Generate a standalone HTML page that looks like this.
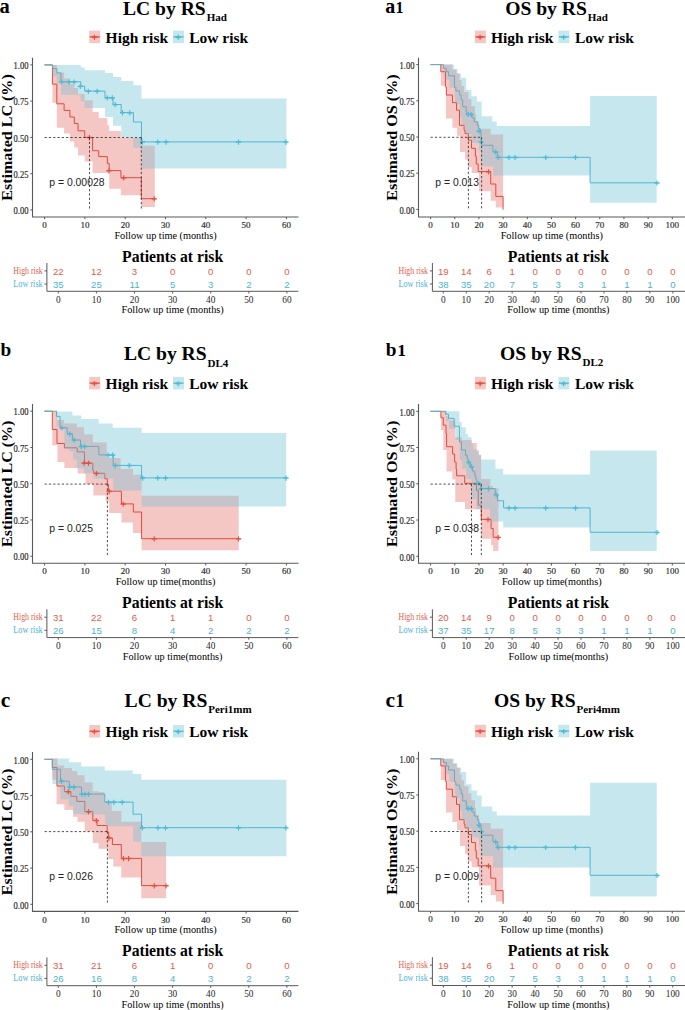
<!DOCTYPE html>
<html><head><meta charset="utf-8"><style>
html,body{margin:0;padding:0;background:#fff;}
svg{display:block;}
</style></head><body>
<svg width="685" height="1010" viewBox="0 0 685 1010">
<rect width="685" height="1010" fill="#fff"/>
<text x="-0.60" y="13.40" font-family='"Liberation Serif", serif' font-weight="bold" font-size="20.5">a</text>
<text x="123.00" y="15.00" font-family='"Liberation Serif", serif' font-weight="bold" font-size="19.6">LC by RS<tspan font-size="11" dx="0.9" dy="6.2">Had</tspan></text>
<rect x="89.20" y="30.60" width="11.0" height="12.50" fill="#DA413A" fill-opacity="0.3"/>
<path d="M89.70,36.85H99.70" stroke="#E4513E" stroke-width="1.4"/>
<path d="M91.90,37.30H96.90" stroke="#E4513E" stroke-width="1.62" fill="none"/><path d="M94.40,34.85V39.85" stroke="#E4513E" stroke-width="1.23" fill="none"/>
<text x="105.60" y="42.60" font-family='"Liberation Serif", serif' font-size="15.5" font-weight="bold" text-anchor="start" fill="#000" >High risk</text>
<rect x="173.00" y="30.60" width="11.0" height="12.50" fill="#44AFC6" fill-opacity="0.3"/>
<path d="M173.50,36.85H183.50" stroke="#4DBBD5" stroke-width="1.4"/>
<path d="M175.70,37.30H180.70" stroke="#4DBBD5" stroke-width="1.62" fill="none"/><path d="M178.20,34.85V39.85" stroke="#4DBBD5" stroke-width="1.23" fill="none"/>
<text x="189.20" y="42.60" font-family='"Liberation Serif", serif' font-size="15.5" font-weight="bold" text-anchor="start" fill="#000" >Low risk</text>
<text x="12.00" y="137.50" font-family='"Liberation Serif", serif' font-size="14.9" font-weight="bold" text-anchor="middle" fill="#000" textLength="126.50" lengthAdjust="spacingAndGlyphs" transform="rotate(-90 12.00 137.50)">Estimated LC (%)</text>
<path d="M44.40,64.90H52.40V84.10H56.80V103.80H64.10V110.40H69.90V117.00H74.30V123.50H78.00V130.80H84.70V137.40H92.60V150.70H98.70V156.60H107.40V163.60H109.20V170.60H120.90V177.70H141.30V198.70H154.80" stroke="#E4513E" stroke-width="1.0" fill="none" stroke-linejoin="miter"/>
<path d="M44.40,64.90H52.60V68.70H56.90V73.00H61.00V81.80H80.80V86.20H84.70V91.10H105.00V97.70H113.00V104.50H121.20V112.60H133.40V122.00H141.50V141.90H286.40" stroke="#4DBBD5" stroke-width="1.0" fill="none" stroke-linejoin="miter"/>
<path d="M52.40,64.90 L56.80,64.90 L56.80,72.50 L64.10,72.50 L64.10,78.40 L69.90,78.40 L69.90,83.90 L74.30,83.90 L74.30,88.00 L78.00,88.00 L78.00,94.10 L84.70,94.10 L84.70,100.20 L92.60,100.20 L92.60,112.00 L98.70,112.00 L98.70,118.10 L107.40,118.10 L107.40,125.30 L109.20,125.30 L109.20,130.90 L120.90,130.90 L120.90,138.00 L141.30,138.00 L141.30,145.80 L154.80,145.80 L154.80,207.10 L141.30,207.10 L141.30,195.20 L120.90,195.20 L120.90,188.70 L109.20,188.70 L109.20,172.90 L92.60,172.90 L92.60,161.50 L84.70,161.50 L84.70,155.40 L78.00,155.40 L78.00,147.50 L74.30,147.50 L74.30,141.40 L69.90,141.40 L69.90,133.50 L64.10,133.50 L64.10,127.70 L56.80,127.70 L56.80,102.80 L52.40,102.80Z" fill="#DA413A" fill-opacity="0.3"/>
<path d="M52.60,64.90 L80.80,64.90 L80.80,67.60 L84.70,67.60 L84.70,70.30 L105.00,70.30 L105.00,73.10 L113.00,73.10 L113.00,76.90 L121.20,76.90 L121.20,81.00 L133.40,81.00 L133.40,85.30 L141.50,85.30 L141.50,98.50 L286.40,98.50 L286.40,168.50 L141.50,168.50 L141.50,147.70 L133.40,147.70 L133.40,137.50 L121.20,137.50 L121.20,125.80 L113.00,125.80 L113.00,117.10 L105.00,117.10 L105.00,108.00 L84.70,108.00 L84.70,101.20 L80.80,101.20 L80.80,94.80 L61.00,94.80 L61.00,83.20 L56.90,83.20 L56.90,76.60 L52.60,76.60Z" fill="#44AFC6" fill-opacity="0.3"/>
<clipPath id="cpa"><path d="M52.40,64.90 L56.80,64.90 L56.80,72.50 L64.10,72.50 L64.10,78.40 L69.90,78.40 L69.90,83.90 L74.30,83.90 L74.30,88.00 L78.00,88.00 L78.00,94.10 L84.70,94.10 L84.70,100.20 L92.60,100.20 L92.60,112.00 L98.70,112.00 L98.70,118.10 L107.40,118.10 L107.40,125.30 L109.20,125.30 L109.20,130.90 L120.90,130.90 L120.90,138.00 L141.30,138.00 L141.30,145.80 L154.80,145.80 L154.80,207.10 L141.30,207.10 L141.30,195.20 L120.90,195.20 L120.90,188.70 L109.20,188.70 L109.20,172.90 L92.60,172.90 L92.60,161.50 L84.70,161.50 L84.70,155.40 L78.00,155.40 L78.00,147.50 L74.30,147.50 L74.30,141.40 L69.90,141.40 L69.90,133.50 L64.10,133.50 L64.10,127.70 L56.80,127.70 L56.80,102.80 L52.40,102.80Z"/></clipPath>
<path d="M52.60,64.90 L80.80,64.90 L80.80,67.60 L84.70,67.60 L84.70,70.30 L105.00,70.30 L105.00,73.10 L113.00,73.10 L113.00,76.90 L121.20,76.90 L121.20,81.00 L133.40,81.00 L133.40,85.30 L141.50,85.30 L141.50,98.50 L286.40,98.50 L286.40,168.50 L141.50,168.50 L141.50,147.70 L133.40,147.70 L133.40,137.50 L121.20,137.50 L121.20,125.80 L113.00,125.80 L113.00,117.10 L105.00,117.10 L105.00,108.00 L84.70,108.00 L84.70,101.20 L80.80,101.20 L80.80,94.80 L61.00,94.80 L61.00,83.20 L56.90,83.20 L56.90,76.60 L52.60,76.60Z" fill="#fff" fill-opacity="0.09" clip-path="url(#cpa)"/>
<path d="M86.80,137.55H92.00" stroke="#E4513E" stroke-width="1.50" fill="none"/><path d="M89.40,135.00V140.20" stroke="#E4513E" stroke-width="1.14" fill="none"/>
<path d="M106.40,170.75H111.60" stroke="#E4513E" stroke-width="1.50" fill="none"/><path d="M109.00,168.20V173.40" stroke="#E4513E" stroke-width="1.14" fill="none"/>
<path d="M121.10,177.85H126.30" stroke="#E4513E" stroke-width="1.50" fill="none"/><path d="M123.70,175.30V180.50" stroke="#E4513E" stroke-width="1.14" fill="none"/>
<path d="M151.60,198.85H156.80" stroke="#E4513E" stroke-width="1.50" fill="none"/><path d="M154.20,196.30V201.50" stroke="#E4513E" stroke-width="1.14" fill="none"/>
<path d="M59.10,81.95H64.30" stroke="#4DBBD5" stroke-width="1.50" fill="none"/><path d="M61.70,79.40V84.60" stroke="#4DBBD5" stroke-width="1.14" fill="none"/>
<path d="M66.70,81.95H71.90" stroke="#4DBBD5" stroke-width="1.50" fill="none"/><path d="M69.30,79.40V84.60" stroke="#4DBBD5" stroke-width="1.14" fill="none"/>
<path d="M71.50,81.95H76.70" stroke="#4DBBD5" stroke-width="1.50" fill="none"/><path d="M74.10,79.40V84.60" stroke="#4DBBD5" stroke-width="1.14" fill="none"/>
<path d="M77.70,86.35H82.90" stroke="#4DBBD5" stroke-width="1.50" fill="none"/><path d="M80.30,83.80V89.00" stroke="#4DBBD5" stroke-width="1.14" fill="none"/>
<path d="M85.70,91.25H90.90" stroke="#4DBBD5" stroke-width="1.50" fill="none"/><path d="M88.30,88.70V93.90" stroke="#4DBBD5" stroke-width="1.14" fill="none"/>
<path d="M94.50,91.25H99.70" stroke="#4DBBD5" stroke-width="1.50" fill="none"/><path d="M97.10,88.70V93.90" stroke="#4DBBD5" stroke-width="1.14" fill="none"/>
<path d="M104.60,97.85H109.80" stroke="#4DBBD5" stroke-width="1.50" fill="none"/><path d="M107.20,95.30V100.50" stroke="#4DBBD5" stroke-width="1.14" fill="none"/>
<path d="M109.70,97.85H114.90" stroke="#4DBBD5" stroke-width="1.50" fill="none"/><path d="M112.30,95.30V100.50" stroke="#4DBBD5" stroke-width="1.14" fill="none"/>
<path d="M112.60,104.65H117.80" stroke="#4DBBD5" stroke-width="1.50" fill="none"/><path d="M115.20,102.10V107.30" stroke="#4DBBD5" stroke-width="1.14" fill="none"/>
<path d="M119.90,112.75H125.10" stroke="#4DBBD5" stroke-width="1.50" fill="none"/><path d="M122.50,110.20V115.40" stroke="#4DBBD5" stroke-width="1.14" fill="none"/>
<path d="M127.20,112.75H132.40" stroke="#4DBBD5" stroke-width="1.50" fill="none"/><path d="M129.80,110.20V115.40" stroke="#4DBBD5" stroke-width="1.14" fill="none"/>
<path d="M139.80,142.05H145.00" stroke="#4DBBD5" stroke-width="1.50" fill="none"/><path d="M142.40,139.50V144.70" stroke="#4DBBD5" stroke-width="1.14" fill="none"/>
<path d="M155.20,142.05H160.40" stroke="#4DBBD5" stroke-width="1.50" fill="none"/><path d="M157.80,139.50V144.70" stroke="#4DBBD5" stroke-width="1.14" fill="none"/>
<path d="M163.40,142.05H168.60" stroke="#4DBBD5" stroke-width="1.50" fill="none"/><path d="M166.00,139.50V144.70" stroke="#4DBBD5" stroke-width="1.14" fill="none"/>
<path d="M235.90,142.05H241.10" stroke="#4DBBD5" stroke-width="1.50" fill="none"/><path d="M238.50,139.50V144.70" stroke="#4DBBD5" stroke-width="1.14" fill="none"/>
<path d="M283.30,142.05H288.50" stroke="#4DBBD5" stroke-width="1.50" fill="none"/><path d="M285.90,139.50V144.70" stroke="#4DBBD5" stroke-width="1.14" fill="none"/>
<path d="M44.60,137.50H141.30" stroke="#2e2e2e" stroke-width="0.85" stroke-dasharray="2.2,2.1" fill="none"/>
<path d="M89.50,137.50V209.90" stroke="#2e2e2e" stroke-width="0.85" stroke-dasharray="2.2,2.1" fill="none"/>
<path d="M141.30,137.50V209.90" stroke="#2e2e2e" stroke-width="0.85" stroke-dasharray="2.2,2.1" fill="none"/>
<path d="M32.50,57.65V217.00H298.50" stroke="#585858" stroke-width="1.1" fill="none"/>
<path d="M30.30,209.90H32.50" stroke="#585858" stroke-width="1"/>
<text x="28.50" y="214.10" font-family='"Liberation Serif", serif' font-size="9.3" font-weight="normal" text-anchor="end" fill="#2E2E2E" textLength="15.00" lengthAdjust="spacingAndGlyphs" stroke="#2E2E2E" stroke-width="0.18">0.00</text>
<path d="M30.30,173.65H32.50" stroke="#585858" stroke-width="1"/>
<text x="28.50" y="177.85" font-family='"Liberation Serif", serif' font-size="9.3" font-weight="normal" text-anchor="end" fill="#2E2E2E" textLength="15.00" lengthAdjust="spacingAndGlyphs" stroke="#2E2E2E" stroke-width="0.18">0.25</text>
<path d="M30.30,137.40H32.50" stroke="#585858" stroke-width="1"/>
<text x="28.50" y="141.60" font-family='"Liberation Serif", serif' font-size="9.3" font-weight="normal" text-anchor="end" fill="#2E2E2E" textLength="15.00" lengthAdjust="spacingAndGlyphs" stroke="#2E2E2E" stroke-width="0.18">0.50</text>
<path d="M30.30,101.15H32.50" stroke="#585858" stroke-width="1"/>
<text x="28.50" y="105.35" font-family='"Liberation Serif", serif' font-size="9.3" font-weight="normal" text-anchor="end" fill="#2E2E2E" textLength="15.00" lengthAdjust="spacingAndGlyphs" stroke="#2E2E2E" stroke-width="0.18">0.75</text>
<path d="M30.30,64.90H32.50" stroke="#585858" stroke-width="1"/>
<text x="28.50" y="69.10" font-family='"Liberation Serif", serif' font-size="9.3" font-weight="normal" text-anchor="end" fill="#2E2E2E" textLength="15.00" lengthAdjust="spacingAndGlyphs" stroke="#2E2E2E" stroke-width="0.18">1.00</text>
<path d="M44.60,217.00V219.20" stroke="#585858" stroke-width="1"/>
<text x="44.60" y="228.10" font-family='"Liberation Serif", serif' font-size="9.0" font-weight="normal" text-anchor="middle" fill="#2E2E2E" stroke="#2E2E2E" stroke-width="0.18">0</text>
<path d="M84.90,217.00V219.20" stroke="#585858" stroke-width="1"/>
<text x="84.90" y="228.10" font-family='"Liberation Serif", serif' font-size="9.0" font-weight="normal" text-anchor="middle" fill="#2E2E2E" stroke="#2E2E2E" stroke-width="0.18">10</text>
<path d="M125.20,217.00V219.20" stroke="#585858" stroke-width="1"/>
<text x="125.20" y="228.10" font-family='"Liberation Serif", serif' font-size="9.0" font-weight="normal" text-anchor="middle" fill="#2E2E2E" stroke="#2E2E2E" stroke-width="0.18">20</text>
<path d="M165.50,217.00V219.20" stroke="#585858" stroke-width="1"/>
<text x="165.50" y="228.10" font-family='"Liberation Serif", serif' font-size="9.0" font-weight="normal" text-anchor="middle" fill="#2E2E2E" stroke="#2E2E2E" stroke-width="0.18">30</text>
<path d="M205.80,217.00V219.20" stroke="#585858" stroke-width="1"/>
<text x="205.80" y="228.10" font-family='"Liberation Serif", serif' font-size="9.0" font-weight="normal" text-anchor="middle" fill="#2E2E2E" stroke="#2E2E2E" stroke-width="0.18">40</text>
<path d="M246.10,217.00V219.20" stroke="#585858" stroke-width="1"/>
<text x="246.10" y="228.10" font-family='"Liberation Serif", serif' font-size="9.0" font-weight="normal" text-anchor="middle" fill="#2E2E2E" stroke="#2E2E2E" stroke-width="0.18">50</text>
<path d="M286.40,217.00V219.20" stroke="#585858" stroke-width="1"/>
<text x="286.40" y="228.10" font-family='"Liberation Serif", serif' font-size="9.0" font-weight="normal" text-anchor="middle" fill="#2E2E2E" stroke="#2E2E2E" stroke-width="0.18">60</text>
<text x="165.50" y="238.60" font-family='"Liberation Serif", serif' font-size="10.25" font-weight="normal" text-anchor="middle" fill="#000" >Follow up time (months)</text>
<text x="49.30" y="185.70" font-family='"Liberation Sans", sans-serif' font-size="10.4" font-weight="normal" text-anchor="start" fill="#222" >p = 0.00028</text>
<text x="172.60" y="261.50" font-family='"Liberation Serif", serif' font-size="15.7" font-weight="bold" text-anchor="middle" fill="#000" >Patients at risk</text>
<path d="M46.90,263.00V291.30H298.30" stroke="#585858" stroke-width="1.0" fill="none"/>
<path d="M44.40,270.90H46.90" stroke="#585858" stroke-width="1"/>
<path d="M44.40,284.00H46.90" stroke="#585858" stroke-width="1"/>
<text x="42.70" y="273.90" font-family='"Liberation Serif", serif' font-size="10" font-weight="normal" text-anchor="end" fill="#E25B4A" textLength="29.40" lengthAdjust="spacingAndGlyphs" >High risk</text>
<text x="42.70" y="286.90" font-family='"Liberation Serif", serif' font-size="10" font-weight="normal" text-anchor="end" fill="#4CB3CF" textLength="29.40" lengthAdjust="spacingAndGlyphs" >Low risk</text>
<text x="58.30" y="274.70" font-family='"Liberation Sans", sans-serif' font-size="9.6" font-weight="normal" text-anchor="middle" fill="#E25B4A" >22</text>
<text x="58.30" y="287.80" font-family='"Liberation Sans", sans-serif' font-size="9.6" font-weight="normal" text-anchor="middle" fill="#4CB3CF" >35</text>
<path d="M58.30,291.30V293.40" stroke="#585858" stroke-width="1"/>
<text x="58.30" y="302.80" font-family='"Liberation Serif", serif' font-size="9.3" font-weight="normal" text-anchor="middle" fill="#262626" >0</text>
<text x="96.40" y="274.70" font-family='"Liberation Sans", sans-serif' font-size="9.6" font-weight="normal" text-anchor="middle" fill="#E25B4A" >12</text>
<text x="96.40" y="287.80" font-family='"Liberation Sans", sans-serif' font-size="9.6" font-weight="normal" text-anchor="middle" fill="#4CB3CF" >25</text>
<path d="M96.40,291.30V293.40" stroke="#585858" stroke-width="1"/>
<text x="96.40" y="302.80" font-family='"Liberation Serif", serif' font-size="9.3" font-weight="normal" text-anchor="middle" fill="#262626" >10</text>
<text x="134.50" y="274.70" font-family='"Liberation Sans", sans-serif' font-size="9.6" font-weight="normal" text-anchor="middle" fill="#E25B4A" >3</text>
<text x="134.50" y="287.80" font-family='"Liberation Sans", sans-serif' font-size="9.6" font-weight="normal" text-anchor="middle" fill="#4CB3CF" >11</text>
<path d="M134.50,291.30V293.40" stroke="#585858" stroke-width="1"/>
<text x="134.50" y="302.80" font-family='"Liberation Serif", serif' font-size="9.3" font-weight="normal" text-anchor="middle" fill="#262626" >20</text>
<text x="172.60" y="274.70" font-family='"Liberation Sans", sans-serif' font-size="9.6" font-weight="normal" text-anchor="middle" fill="#E25B4A" >0</text>
<text x="172.60" y="287.80" font-family='"Liberation Sans", sans-serif' font-size="9.6" font-weight="normal" text-anchor="middle" fill="#4CB3CF" >5</text>
<path d="M172.60,291.30V293.40" stroke="#585858" stroke-width="1"/>
<text x="172.60" y="302.80" font-family='"Liberation Serif", serif' font-size="9.3" font-weight="normal" text-anchor="middle" fill="#262626" >30</text>
<text x="210.70" y="274.70" font-family='"Liberation Sans", sans-serif' font-size="9.6" font-weight="normal" text-anchor="middle" fill="#E25B4A" >0</text>
<text x="210.70" y="287.80" font-family='"Liberation Sans", sans-serif' font-size="9.6" font-weight="normal" text-anchor="middle" fill="#4CB3CF" >3</text>
<path d="M210.70,291.30V293.40" stroke="#585858" stroke-width="1"/>
<text x="210.70" y="302.80" font-family='"Liberation Serif", serif' font-size="9.3" font-weight="normal" text-anchor="middle" fill="#262626" >40</text>
<text x="248.80" y="274.70" font-family='"Liberation Sans", sans-serif' font-size="9.6" font-weight="normal" text-anchor="middle" fill="#E25B4A" >0</text>
<text x="248.80" y="287.80" font-family='"Liberation Sans", sans-serif' font-size="9.6" font-weight="normal" text-anchor="middle" fill="#4CB3CF" >2</text>
<path d="M248.80,291.30V293.40" stroke="#585858" stroke-width="1"/>
<text x="248.80" y="302.80" font-family='"Liberation Serif", serif' font-size="9.3" font-weight="normal" text-anchor="middle" fill="#262626" >50</text>
<text x="286.90" y="274.70" font-family='"Liberation Sans", sans-serif' font-size="9.6" font-weight="normal" text-anchor="middle" fill="#E25B4A" >0</text>
<text x="286.90" y="287.80" font-family='"Liberation Sans", sans-serif' font-size="9.6" font-weight="normal" text-anchor="middle" fill="#4CB3CF" >2</text>
<path d="M286.90,291.30V293.40" stroke="#585858" stroke-width="1"/>
<text x="286.90" y="302.80" font-family='"Liberation Serif", serif' font-size="9.3" font-weight="normal" text-anchor="middle" fill="#262626" >60</text>
<text x="172.60" y="313.30" font-family='"Liberation Serif", serif' font-size="10.25" font-weight="normal" text-anchor="middle" fill="#000" >Follow up time (months)</text>
<text x="385.30" y="13.30" font-family='"Liberation Serif", serif' font-weight="bold" font-size="20">a<tspan font-size="16" dx="0.2">1</tspan></text>
<text x="505.20" y="15.00" font-family='"Liberation Serif", serif' font-weight="bold" font-size="19.6">OS by RS<tspan font-size="11" dx="0.9" dy="6.2">Had</tspan></text>
<rect x="474.90" y="30.60" width="11.0" height="12.50" fill="#DA413A" fill-opacity="0.3"/>
<path d="M475.40,36.85H485.40" stroke="#E4513E" stroke-width="1.4"/>
<path d="M477.60,37.30H482.60" stroke="#E4513E" stroke-width="1.62" fill="none"/><path d="M480.10,34.85V39.85" stroke="#E4513E" stroke-width="1.23" fill="none"/>
<text x="491.00" y="42.60" font-family='"Liberation Serif", serif' font-size="15.5" font-weight="bold" text-anchor="start" fill="#000" >High risk</text>
<rect x="558.40" y="30.60" width="11.0" height="12.50" fill="#44AFC6" fill-opacity="0.3"/>
<path d="M558.90,36.85H568.90" stroke="#4DBBD5" stroke-width="1.4"/>
<path d="M561.10,37.30H566.10" stroke="#4DBBD5" stroke-width="1.62" fill="none"/><path d="M563.60,34.85V39.85" stroke="#4DBBD5" stroke-width="1.23" fill="none"/>
<text x="574.90" y="42.60" font-family='"Liberation Serif", serif' font-size="15.5" font-weight="bold" text-anchor="start" fill="#000" >Low risk</text>
<text x="397.30" y="137.50" font-family='"Liberation Serif", serif' font-size="14.9" font-weight="bold" text-anchor="middle" fill="#000" textLength="126.30" lengthAdjust="spacingAndGlyphs" transform="rotate(-90 397.30 137.50)">Estimated OS (%)</text>
<path d="M430.40,64.60H440.80V71.70H445.40V86.90H446.30V95.00H452.40V102.60H456.50V110.20H459.50V125.40H464.10V130.10H465.00V133.60H468.30V140.20H471.50V148.30H475.40V156.30H476.30V164.00H478.20V171.60H490.70V184.00H495.80V196.40H503.10V209.60H503.10" stroke="#E4513E" stroke-width="1.0" fill="none" stroke-linejoin="miter"/>
<path d="M430.40,64.60H443.40V68.20H446.30V71.70H448.60V75.80H454.50V87.40H455.90V90.90H459.70V95.00H461.20V99.70H462.70V106.70H466.20V111.40H466.80V114.30H472.00V117.80H474.30V121.90H477.30V125.40H478.70V128.90H480.20V133.00H481.20V141.70H481.60V145.30H492.90V151.90H497.30V157.30H590.10V182.80H657.30" stroke="#4DBBD5" stroke-width="1.0" fill="none" stroke-linejoin="miter"/>
<path d="M440.80,64.60 L452.40,64.60 L452.40,69.50 L456.50,69.50 L456.50,73.50 L459.50,73.50 L459.50,80.00 L461.50,80.00 L461.50,86.00 L464.10,86.00 L464.10,92.00 L468.40,92.00 L468.40,99.00 L471.40,99.00 L471.40,106.00 L475.00,106.00 L475.00,113.80 L476.10,113.80 L476.10,121.00 L479.10,121.00 L479.10,128.70 L490.70,128.70 L490.70,134.60 L503.10,134.60 L503.10,207.40 L495.80,207.40 L495.80,200.80 L490.70,200.80 L490.70,191.30 L479.00,191.30 L479.00,173.10 L471.70,173.10 L471.70,167.30 L467.80,167.30 L467.80,159.50 L465.10,159.50 L465.10,151.90 L460.00,151.90 L460.00,135.80 L457.10,135.80 L457.10,127.70 L452.40,127.70 L452.40,118.40 L446.00,118.40 L446.00,85.70 L440.80,85.70Z" fill="#DA413A" fill-opacity="0.3"/>
<path d="M443.40,64.60 L453.90,64.60 L453.90,69.00 L457.40,69.00 L457.40,73.40 L461.00,73.40 L461.00,77.80 L466.20,77.80 L466.20,90.00 L471.50,90.00 L471.50,96.20 L476.90,96.20 L476.90,101.40 L481.70,101.40 L481.70,116.30 L492.30,116.30 L492.30,121.50 L496.80,121.50 L496.80,125.90 L590.10,125.90 L590.10,96.10 L656.70,96.10 L656.70,202.70 L590.10,202.70 L590.10,175.50 L493.00,175.50 L493.00,166.20 L480.90,166.20 L480.90,150.70 L479.00,150.70 L479.00,143.00 L471.40,143.00 L471.40,134.00 L465.70,134.00 L465.70,125.70 L461.90,125.70 L461.90,116.80 L459.80,116.80 L459.80,103.70 L455.10,103.70 L455.10,96.50 L454.80,96.50 L454.80,87.50 L449.50,87.50 L449.50,80.00 L446.30,80.00 L446.30,71.70 L443.40,71.70Z" fill="#44AFC6" fill-opacity="0.3"/>
<clipPath id="cpa1"><path d="M440.80,64.60 L452.40,64.60 L452.40,69.50 L456.50,69.50 L456.50,73.50 L459.50,73.50 L459.50,80.00 L461.50,80.00 L461.50,86.00 L464.10,86.00 L464.10,92.00 L468.40,92.00 L468.40,99.00 L471.40,99.00 L471.40,106.00 L475.00,106.00 L475.00,113.80 L476.10,113.80 L476.10,121.00 L479.10,121.00 L479.10,128.70 L490.70,128.70 L490.70,134.60 L503.10,134.60 L503.10,207.40 L495.80,207.40 L495.80,200.80 L490.70,200.80 L490.70,191.30 L479.00,191.30 L479.00,173.10 L471.70,173.10 L471.70,167.30 L467.80,167.30 L467.80,159.50 L465.10,159.50 L465.10,151.90 L460.00,151.90 L460.00,135.80 L457.10,135.80 L457.10,127.70 L452.40,127.70 L452.40,118.40 L446.00,118.40 L446.00,85.70 L440.80,85.70Z"/></clipPath>
<path d="M443.40,64.60 L453.90,64.60 L453.90,69.00 L457.40,69.00 L457.40,73.40 L461.00,73.40 L461.00,77.80 L466.20,77.80 L466.20,90.00 L471.50,90.00 L471.50,96.20 L476.90,96.20 L476.90,101.40 L481.70,101.40 L481.70,116.30 L492.30,116.30 L492.30,121.50 L496.80,121.50 L496.80,125.90 L590.10,125.90 L590.10,96.10 L656.70,96.10 L656.70,202.70 L590.10,202.70 L590.10,175.50 L493.00,175.50 L493.00,166.20 L480.90,166.20 L480.90,150.70 L479.00,150.70 L479.00,143.00 L471.40,143.00 L471.40,134.00 L465.70,134.00 L465.70,125.70 L461.90,125.70 L461.90,116.80 L459.80,116.80 L459.80,103.70 L455.10,103.70 L455.10,96.50 L454.80,96.50 L454.80,87.50 L449.50,87.50 L449.50,80.00 L446.30,80.00 L446.30,71.70 L443.40,71.70Z" fill="#fff" fill-opacity="0.09" clip-path="url(#cpa1)"/>
<path d="M485.90,171.75H491.10" stroke="#E4513E" stroke-width="1.50" fill="none"/><path d="M488.50,169.20V174.40" stroke="#E4513E" stroke-width="1.14" fill="none"/>
<path d="M465.60,114.45H470.80" stroke="#4DBBD5" stroke-width="1.50" fill="none"/><path d="M468.20,111.90V117.10" stroke="#4DBBD5" stroke-width="1.14" fill="none"/>
<path d="M468.60,114.45H473.80" stroke="#4DBBD5" stroke-width="1.50" fill="none"/><path d="M471.20,111.90V117.10" stroke="#4DBBD5" stroke-width="1.14" fill="none"/>
<path d="M476.40,131.15H481.60" stroke="#4DBBD5" stroke-width="1.50" fill="none"/><path d="M479.00,128.60V133.80" stroke="#4DBBD5" stroke-width="1.14" fill="none"/>
<path d="M478.60,141.85H483.80" stroke="#4DBBD5" stroke-width="1.50" fill="none"/><path d="M481.20,139.30V144.50" stroke="#4DBBD5" stroke-width="1.14" fill="none"/>
<path d="M493.10,152.15H498.30" stroke="#4DBBD5" stroke-width="1.50" fill="none"/><path d="M495.70,149.60V154.80" stroke="#4DBBD5" stroke-width="1.14" fill="none"/>
<path d="M495.50,157.45H500.70" stroke="#4DBBD5" stroke-width="1.50" fill="none"/><path d="M498.10,154.90V160.10" stroke="#4DBBD5" stroke-width="1.14" fill="none"/>
<path d="M506.30,157.45H511.50" stroke="#4DBBD5" stroke-width="1.50" fill="none"/><path d="M508.90,154.90V160.10" stroke="#4DBBD5" stroke-width="1.14" fill="none"/>
<path d="M512.50,157.45H517.70" stroke="#4DBBD5" stroke-width="1.50" fill="none"/><path d="M515.10,154.90V160.10" stroke="#4DBBD5" stroke-width="1.14" fill="none"/>
<path d="M543.10,157.45H548.30" stroke="#4DBBD5" stroke-width="1.50" fill="none"/><path d="M545.70,154.90V160.10" stroke="#4DBBD5" stroke-width="1.14" fill="none"/>
<path d="M572.90,157.45H578.10" stroke="#4DBBD5" stroke-width="1.50" fill="none"/><path d="M575.50,154.90V160.10" stroke="#4DBBD5" stroke-width="1.14" fill="none"/>
<path d="M654.40,182.95H659.60" stroke="#4DBBD5" stroke-width="1.50" fill="none"/><path d="M657.00,180.40V185.60" stroke="#4DBBD5" stroke-width="1.14" fill="none"/>
<path d="M430.60,137.30H481.60" stroke="#2e2e2e" stroke-width="0.85" stroke-dasharray="2.2,2.1" fill="none"/>
<path d="M468.40,137.30V209.40" stroke="#2e2e2e" stroke-width="0.85" stroke-dasharray="2.2,2.1" fill="none"/>
<path d="M481.60,137.30V209.40" stroke="#2e2e2e" stroke-width="0.85" stroke-dasharray="2.2,2.1" fill="none"/>
<path d="M418.50,57.65V217.00H685.00" stroke="#585858" stroke-width="1.1" fill="none"/>
<path d="M416.30,209.40H418.50" stroke="#585858" stroke-width="1"/>
<text x="414.50" y="213.60" font-family='"Liberation Serif", serif' font-size="9.3" font-weight="normal" text-anchor="end" fill="#2E2E2E" textLength="15.00" lengthAdjust="spacingAndGlyphs" stroke="#2E2E2E" stroke-width="0.18">0.00</text>
<path d="M416.30,173.20H418.50" stroke="#585858" stroke-width="1"/>
<text x="414.50" y="177.40" font-family='"Liberation Serif", serif' font-size="9.3" font-weight="normal" text-anchor="end" fill="#2E2E2E" textLength="15.00" lengthAdjust="spacingAndGlyphs" stroke="#2E2E2E" stroke-width="0.18">0.25</text>
<path d="M416.30,137.00H418.50" stroke="#585858" stroke-width="1"/>
<text x="414.50" y="141.20" font-family='"Liberation Serif", serif' font-size="9.3" font-weight="normal" text-anchor="end" fill="#2E2E2E" textLength="15.00" lengthAdjust="spacingAndGlyphs" stroke="#2E2E2E" stroke-width="0.18">0.50</text>
<path d="M416.30,100.80H418.50" stroke="#585858" stroke-width="1"/>
<text x="414.50" y="105.00" font-family='"Liberation Serif", serif' font-size="9.3" font-weight="normal" text-anchor="end" fill="#2E2E2E" textLength="15.00" lengthAdjust="spacingAndGlyphs" stroke="#2E2E2E" stroke-width="0.18">0.75</text>
<path d="M416.30,64.60H418.50" stroke="#585858" stroke-width="1"/>
<text x="414.50" y="68.80" font-family='"Liberation Serif", serif' font-size="9.3" font-weight="normal" text-anchor="end" fill="#2E2E2E" textLength="15.00" lengthAdjust="spacingAndGlyphs" stroke="#2E2E2E" stroke-width="0.18">1.00</text>
<path d="M430.60,217.00V219.20" stroke="#585858" stroke-width="1"/>
<text x="430.60" y="228.10" font-family='"Liberation Serif", serif' font-size="9.0" font-weight="normal" text-anchor="middle" fill="#2E2E2E" stroke="#2E2E2E" stroke-width="0.18">0</text>
<path d="M454.77,217.00V219.20" stroke="#585858" stroke-width="1"/>
<text x="454.77" y="228.10" font-family='"Liberation Serif", serif' font-size="9.0" font-weight="normal" text-anchor="middle" fill="#2E2E2E" stroke="#2E2E2E" stroke-width="0.18">10</text>
<path d="M478.94,217.00V219.20" stroke="#585858" stroke-width="1"/>
<text x="478.94" y="228.10" font-family='"Liberation Serif", serif' font-size="9.0" font-weight="normal" text-anchor="middle" fill="#2E2E2E" stroke="#2E2E2E" stroke-width="0.18">20</text>
<path d="M503.11,217.00V219.20" stroke="#585858" stroke-width="1"/>
<text x="503.11" y="228.10" font-family='"Liberation Serif", serif' font-size="9.0" font-weight="normal" text-anchor="middle" fill="#2E2E2E" stroke="#2E2E2E" stroke-width="0.18">30</text>
<path d="M527.28,217.00V219.20" stroke="#585858" stroke-width="1"/>
<text x="527.28" y="228.10" font-family='"Liberation Serif", serif' font-size="9.0" font-weight="normal" text-anchor="middle" fill="#2E2E2E" stroke="#2E2E2E" stroke-width="0.18">40</text>
<path d="M551.45,217.00V219.20" stroke="#585858" stroke-width="1"/>
<text x="551.45" y="228.10" font-family='"Liberation Serif", serif' font-size="9.0" font-weight="normal" text-anchor="middle" fill="#2E2E2E" stroke="#2E2E2E" stroke-width="0.18">50</text>
<path d="M575.62,217.00V219.20" stroke="#585858" stroke-width="1"/>
<text x="575.62" y="228.10" font-family='"Liberation Serif", serif' font-size="9.0" font-weight="normal" text-anchor="middle" fill="#2E2E2E" stroke="#2E2E2E" stroke-width="0.18">60</text>
<path d="M599.79,217.00V219.20" stroke="#585858" stroke-width="1"/>
<text x="599.79" y="228.10" font-family='"Liberation Serif", serif' font-size="9.0" font-weight="normal" text-anchor="middle" fill="#2E2E2E" stroke="#2E2E2E" stroke-width="0.18">70</text>
<path d="M623.96,217.00V219.20" stroke="#585858" stroke-width="1"/>
<text x="623.96" y="228.10" font-family='"Liberation Serif", serif' font-size="9.0" font-weight="normal" text-anchor="middle" fill="#2E2E2E" stroke="#2E2E2E" stroke-width="0.18">80</text>
<path d="M648.13,217.00V219.20" stroke="#585858" stroke-width="1"/>
<text x="648.13" y="228.10" font-family='"Liberation Serif", serif' font-size="9.0" font-weight="normal" text-anchor="middle" fill="#2E2E2E" stroke="#2E2E2E" stroke-width="0.18">90</text>
<path d="M672.30,217.00V219.20" stroke="#585858" stroke-width="1"/>
<text x="672.30" y="228.10" font-family='"Liberation Serif", serif' font-size="9.0" font-weight="normal" text-anchor="middle" fill="#2E2E2E" stroke="#2E2E2E" stroke-width="0.18">100</text>
<text x="551.75" y="238.60" font-family='"Liberation Serif", serif' font-size="10.25" font-weight="normal" text-anchor="middle" fill="#000" >Follow up time (months)</text>
<text x="435.30" y="185.70" font-family='"Liberation Sans", sans-serif' font-size="10.4" font-weight="normal" text-anchor="start" fill="#222" >p = 0.013</text>
<text x="558.40" y="261.50" font-family='"Liberation Serif", serif' font-size="15.7" font-weight="bold" text-anchor="middle" fill="#000" >Patients at risk</text>
<path d="M432.40,263.00V291.30H685.00" stroke="#585858" stroke-width="1.0" fill="none"/>
<path d="M429.90,270.90H432.40" stroke="#585858" stroke-width="1"/>
<path d="M429.90,284.00H432.40" stroke="#585858" stroke-width="1"/>
<text x="427.90" y="273.90" font-family='"Liberation Serif", serif' font-size="10" font-weight="normal" text-anchor="end" fill="#E25B4A" textLength="29.40" lengthAdjust="spacingAndGlyphs" >High risk</text>
<text x="427.90" y="286.90" font-family='"Liberation Serif", serif' font-size="10" font-weight="normal" text-anchor="end" fill="#4CB3CF" textLength="29.40" lengthAdjust="spacingAndGlyphs" >Low risk</text>
<text x="443.30" y="274.70" font-family='"Liberation Sans", sans-serif' font-size="9.6" font-weight="normal" text-anchor="middle" fill="#E25B4A" >19</text>
<text x="443.30" y="287.80" font-family='"Liberation Sans", sans-serif' font-size="9.6" font-weight="normal" text-anchor="middle" fill="#4CB3CF" >38</text>
<path d="M443.30,291.30V293.40" stroke="#585858" stroke-width="1"/>
<text x="443.30" y="302.80" font-family='"Liberation Serif", serif' font-size="9.3" font-weight="normal" text-anchor="middle" fill="#262626" >0</text>
<text x="466.25" y="274.70" font-family='"Liberation Sans", sans-serif' font-size="9.6" font-weight="normal" text-anchor="middle" fill="#E25B4A" >14</text>
<text x="466.25" y="287.80" font-family='"Liberation Sans", sans-serif' font-size="9.6" font-weight="normal" text-anchor="middle" fill="#4CB3CF" >35</text>
<path d="M466.25,291.30V293.40" stroke="#585858" stroke-width="1"/>
<text x="466.25" y="302.80" font-family='"Liberation Serif", serif' font-size="9.3" font-weight="normal" text-anchor="middle" fill="#262626" >10</text>
<text x="489.20" y="274.70" font-family='"Liberation Sans", sans-serif' font-size="9.6" font-weight="normal" text-anchor="middle" fill="#E25B4A" >6</text>
<text x="489.20" y="287.80" font-family='"Liberation Sans", sans-serif' font-size="9.6" font-weight="normal" text-anchor="middle" fill="#4CB3CF" >20</text>
<path d="M489.20,291.30V293.40" stroke="#585858" stroke-width="1"/>
<text x="489.20" y="302.80" font-family='"Liberation Serif", serif' font-size="9.3" font-weight="normal" text-anchor="middle" fill="#262626" >20</text>
<text x="512.15" y="274.70" font-family='"Liberation Sans", sans-serif' font-size="9.6" font-weight="normal" text-anchor="middle" fill="#E25B4A" >1</text>
<text x="512.15" y="287.80" font-family='"Liberation Sans", sans-serif' font-size="9.6" font-weight="normal" text-anchor="middle" fill="#4CB3CF" >7</text>
<path d="M512.15,291.30V293.40" stroke="#585858" stroke-width="1"/>
<text x="512.15" y="302.80" font-family='"Liberation Serif", serif' font-size="9.3" font-weight="normal" text-anchor="middle" fill="#262626" >30</text>
<text x="535.10" y="274.70" font-family='"Liberation Sans", sans-serif' font-size="9.6" font-weight="normal" text-anchor="middle" fill="#E25B4A" >0</text>
<text x="535.10" y="287.80" font-family='"Liberation Sans", sans-serif' font-size="9.6" font-weight="normal" text-anchor="middle" fill="#4CB3CF" >5</text>
<path d="M535.10,291.30V293.40" stroke="#585858" stroke-width="1"/>
<text x="535.10" y="302.80" font-family='"Liberation Serif", serif' font-size="9.3" font-weight="normal" text-anchor="middle" fill="#262626" >40</text>
<text x="558.05" y="274.70" font-family='"Liberation Sans", sans-serif' font-size="9.6" font-weight="normal" text-anchor="middle" fill="#E25B4A" >0</text>
<text x="558.05" y="287.80" font-family='"Liberation Sans", sans-serif' font-size="9.6" font-weight="normal" text-anchor="middle" fill="#4CB3CF" >3</text>
<path d="M558.05,291.30V293.40" stroke="#585858" stroke-width="1"/>
<text x="558.05" y="302.80" font-family='"Liberation Serif", serif' font-size="9.3" font-weight="normal" text-anchor="middle" fill="#262626" >50</text>
<text x="581.00" y="274.70" font-family='"Liberation Sans", sans-serif' font-size="9.6" font-weight="normal" text-anchor="middle" fill="#E25B4A" >0</text>
<text x="581.00" y="287.80" font-family='"Liberation Sans", sans-serif' font-size="9.6" font-weight="normal" text-anchor="middle" fill="#4CB3CF" >3</text>
<path d="M581.00,291.30V293.40" stroke="#585858" stroke-width="1"/>
<text x="581.00" y="302.80" font-family='"Liberation Serif", serif' font-size="9.3" font-weight="normal" text-anchor="middle" fill="#262626" >60</text>
<text x="603.95" y="274.70" font-family='"Liberation Sans", sans-serif' font-size="9.6" font-weight="normal" text-anchor="middle" fill="#E25B4A" >0</text>
<text x="603.95" y="287.80" font-family='"Liberation Sans", sans-serif' font-size="9.6" font-weight="normal" text-anchor="middle" fill="#4CB3CF" >1</text>
<path d="M603.95,291.30V293.40" stroke="#585858" stroke-width="1"/>
<text x="603.95" y="302.80" font-family='"Liberation Serif", serif' font-size="9.3" font-weight="normal" text-anchor="middle" fill="#262626" >70</text>
<text x="626.90" y="274.70" font-family='"Liberation Sans", sans-serif' font-size="9.6" font-weight="normal" text-anchor="middle" fill="#E25B4A" >0</text>
<text x="626.90" y="287.80" font-family='"Liberation Sans", sans-serif' font-size="9.6" font-weight="normal" text-anchor="middle" fill="#4CB3CF" >1</text>
<path d="M626.90,291.30V293.40" stroke="#585858" stroke-width="1"/>
<text x="626.90" y="302.80" font-family='"Liberation Serif", serif' font-size="9.3" font-weight="normal" text-anchor="middle" fill="#262626" >80</text>
<text x="649.85" y="274.70" font-family='"Liberation Sans", sans-serif' font-size="9.6" font-weight="normal" text-anchor="middle" fill="#E25B4A" >0</text>
<text x="649.85" y="287.80" font-family='"Liberation Sans", sans-serif' font-size="9.6" font-weight="normal" text-anchor="middle" fill="#4CB3CF" >1</text>
<path d="M649.85,291.30V293.40" stroke="#585858" stroke-width="1"/>
<text x="649.85" y="302.80" font-family='"Liberation Serif", serif' font-size="9.3" font-weight="normal" text-anchor="middle" fill="#262626" >90</text>
<text x="672.80" y="274.70" font-family='"Liberation Sans", sans-serif' font-size="9.6" font-weight="normal" text-anchor="middle" fill="#E25B4A" >0</text>
<text x="672.80" y="287.80" font-family='"Liberation Sans", sans-serif' font-size="9.6" font-weight="normal" text-anchor="middle" fill="#4CB3CF" >0</text>
<path d="M672.80,291.30V293.40" stroke="#585858" stroke-width="1"/>
<text x="672.80" y="302.80" font-family='"Liberation Serif", serif' font-size="9.3" font-weight="normal" text-anchor="middle" fill="#262626" >100</text>
<text x="558.40" y="313.30" font-family='"Liberation Serif", serif' font-size="10.25" font-weight="normal" text-anchor="middle" fill="#000" >Follow up time (months)</text>
<text x="0.40" y="356.00" font-family='"Liberation Serif", serif' font-weight="bold" font-size="19.3">b</text>
<text x="123.90" y="360.40" font-family='"Liberation Serif", serif' font-weight="bold" font-size="19.6">LC by RS<tspan font-size="11" dx="0.9" dy="6.2">DL4</tspan></text>
<rect x="89.20" y="376.90" width="11.0" height="12.50" fill="#DA413A" fill-opacity="0.3"/>
<path d="M89.70,383.15H99.70" stroke="#E4513E" stroke-width="1.4"/>
<path d="M91.90,383.60H96.90" stroke="#E4513E" stroke-width="1.62" fill="none"/><path d="M94.40,381.15V386.15" stroke="#E4513E" stroke-width="1.23" fill="none"/>
<text x="105.60" y="388.90" font-family='"Liberation Serif", serif' font-size="15.5" font-weight="bold" text-anchor="start" fill="#000" >High risk</text>
<rect x="173.00" y="376.90" width="11.0" height="12.50" fill="#44AFC6" fill-opacity="0.3"/>
<path d="M173.50,383.15H183.50" stroke="#4DBBD5" stroke-width="1.4"/>
<path d="M175.70,383.60H180.70" stroke="#4DBBD5" stroke-width="1.62" fill="none"/><path d="M178.20,381.15V386.15" stroke="#4DBBD5" stroke-width="1.23" fill="none"/>
<text x="189.20" y="388.90" font-family='"Liberation Serif", serif' font-size="15.5" font-weight="bold" text-anchor="start" fill="#000" >Low risk</text>
<text x="12.00" y="483.80" font-family='"Liberation Serif", serif' font-size="14.9" font-weight="bold" text-anchor="middle" fill="#000" textLength="126.50" lengthAdjust="spacingAndGlyphs" transform="rotate(-90 12.00 483.80)">Estimated LC (%)</text>
<path d="M44.40,411.20H52.30V429.50H57.00V443.50H64.40V447.80H77.20V451.80H84.50V463.00H92.80V470.40H93.60V473.30H104.80V478.80H107.40V484.20H108.40V491.20H121.40V503.90H133.30V512.00H141.60V538.70H238.70" stroke="#E4513E" stroke-width="1.0" fill="none" stroke-linejoin="miter"/>
<path d="M44.40,411.20H56.60V416.40H60.10V427.80H67.20V433.90H72.40V440.00H80.50V446.40H98.80V454.90H113.20V465.40H141.60V477.90H286.20" stroke="#4DBBD5" stroke-width="1.0" fill="none" stroke-linejoin="miter"/>
<path d="M52.30,411.50 L57.00,411.50 L57.00,419.90 L64.10,419.90 L64.10,423.60 L76.80,423.60 L76.80,427.30 L84.10,427.30 L84.10,434.60 L92.80,434.60 L92.80,442.60 L106.70,442.60 L106.70,458.00 L120.60,458.00 L120.60,468.90 L133.00,468.90 L133.00,474.70 L141.60,474.70 L141.60,495.80 L238.70,495.80 L238.70,550.30 L141.60,550.30 L141.60,533.10 L132.90,533.10 L132.90,522.60 L121.50,522.60 L121.50,512.90 L109.20,512.90 L109.20,501.50 L105.70,501.50 L105.70,495.40 L93.40,495.40 L93.40,484.00 L85.50,484.00 L85.50,473.50 L77.70,473.50 L77.70,468.10 L64.40,468.10 L64.40,462.00 L57.50,462.00 L57.50,445.30 L52.30,445.30Z" fill="#DA413A" fill-opacity="0.3"/>
<path d="M56.60,411.50 L72.40,411.50 L72.40,415.50 L81.20,415.50 L81.20,419.00 L98.70,419.00 L98.70,423.40 L112.70,423.40 L112.70,427.80 L141.60,427.80 L141.60,433.00 L286.20,433.00 L286.20,506.50 L141.60,506.50 L141.60,490.50 L113.30,490.50 L113.30,478.40 L93.60,478.40 L93.60,473.30 L84.00,473.30 L84.00,468.20 L76.80,468.20 L76.80,459.40 L73.10,459.40 L73.10,451.40 L69.50,451.40 L69.50,448.50 L64.40,448.50 L64.40,426.50 L56.60,426.50Z" fill="#44AFC6" fill-opacity="0.3"/>
<clipPath id="cpb"><path d="M52.30,411.50 L57.00,411.50 L57.00,419.90 L64.10,419.90 L64.10,423.60 L76.80,423.60 L76.80,427.30 L84.10,427.30 L84.10,434.60 L92.80,434.60 L92.80,442.60 L106.70,442.60 L106.70,458.00 L120.60,458.00 L120.60,468.90 L133.00,468.90 L133.00,474.70 L141.60,474.70 L141.60,495.80 L238.70,495.80 L238.70,550.30 L141.60,550.30 L141.60,533.10 L132.90,533.10 L132.90,522.60 L121.50,522.60 L121.50,512.90 L109.20,512.90 L109.20,501.50 L105.70,501.50 L105.70,495.40 L93.40,495.40 L93.40,484.00 L85.50,484.00 L85.50,473.50 L77.70,473.50 L77.70,468.10 L64.40,468.10 L64.40,462.00 L57.50,462.00 L57.50,445.30 L52.30,445.30Z"/></clipPath>
<path d="M56.60,411.50 L72.40,411.50 L72.40,415.50 L81.20,415.50 L81.20,419.00 L98.70,419.00 L98.70,423.40 L112.70,423.40 L112.70,427.80 L141.60,427.80 L141.60,433.00 L286.20,433.00 L286.20,506.50 L141.60,506.50 L141.60,490.50 L113.30,490.50 L113.30,478.40 L93.60,478.40 L93.60,473.30 L84.00,473.30 L84.00,468.20 L76.80,468.20 L76.80,459.40 L73.10,459.40 L73.10,451.40 L69.50,451.40 L69.50,448.50 L64.40,448.50 L64.40,426.50 L56.60,426.50Z" fill="#fff" fill-opacity="0.09" clip-path="url(#cpb)"/>
<path d="M81.50,463.15H86.70" stroke="#E4513E" stroke-width="1.50" fill="none"/><path d="M84.10,460.60V465.80" stroke="#E4513E" stroke-width="1.14" fill="none"/>
<path d="M85.90,463.15H91.10" stroke="#E4513E" stroke-width="1.50" fill="none"/><path d="M88.50,460.60V465.80" stroke="#E4513E" stroke-width="1.14" fill="none"/>
<path d="M93.80,473.45H99.00" stroke="#E4513E" stroke-width="1.50" fill="none"/><path d="M96.40,470.90V476.10" stroke="#E4513E" stroke-width="1.14" fill="none"/>
<path d="M106.60,491.35H111.80" stroke="#E4513E" stroke-width="1.50" fill="none"/><path d="M109.20,488.80V494.00" stroke="#E4513E" stroke-width="1.14" fill="none"/>
<path d="M120.60,504.05H125.80" stroke="#E4513E" stroke-width="1.50" fill="none"/><path d="M123.20,501.50V506.70" stroke="#E4513E" stroke-width="1.14" fill="none"/>
<path d="M151.60,538.85H156.80" stroke="#E4513E" stroke-width="1.50" fill="none"/><path d="M154.20,536.30V541.50" stroke="#E4513E" stroke-width="1.14" fill="none"/>
<path d="M235.90,538.85H241.10" stroke="#E4513E" stroke-width="1.50" fill="none"/><path d="M238.50,536.30V541.50" stroke="#E4513E" stroke-width="1.14" fill="none"/>
<path d="M59.30,427.95H64.50" stroke="#4DBBD5" stroke-width="1.50" fill="none"/><path d="M61.90,425.40V430.60" stroke="#4DBBD5" stroke-width="1.14" fill="none"/>
<path d="M67.20,434.05H72.40" stroke="#4DBBD5" stroke-width="1.50" fill="none"/><path d="M69.80,431.50V436.70" stroke="#4DBBD5" stroke-width="1.14" fill="none"/>
<path d="M71.60,440.15H76.80" stroke="#4DBBD5" stroke-width="1.50" fill="none"/><path d="M74.20,437.60V442.80" stroke="#4DBBD5" stroke-width="1.14" fill="none"/>
<path d="M78.60,446.55H83.80" stroke="#4DBBD5" stroke-width="1.50" fill="none"/><path d="M81.20,444.00V449.20" stroke="#4DBBD5" stroke-width="1.14" fill="none"/>
<path d="M82.10,446.55H87.30" stroke="#4DBBD5" stroke-width="1.50" fill="none"/><path d="M84.70,444.00V449.20" stroke="#4DBBD5" stroke-width="1.14" fill="none"/>
<path d="M105.50,455.05H110.70" stroke="#4DBBD5" stroke-width="1.50" fill="none"/><path d="M108.10,452.50V457.70" stroke="#4DBBD5" stroke-width="1.14" fill="none"/>
<path d="M110.10,455.05H115.30" stroke="#4DBBD5" stroke-width="1.50" fill="none"/><path d="M112.70,452.50V457.70" stroke="#4DBBD5" stroke-width="1.14" fill="none"/>
<path d="M112.70,465.55H117.90" stroke="#4DBBD5" stroke-width="1.50" fill="none"/><path d="M115.30,463.00V468.20" stroke="#4DBBD5" stroke-width="1.14" fill="none"/>
<path d="M126.70,465.55H131.90" stroke="#4DBBD5" stroke-width="1.50" fill="none"/><path d="M129.30,463.00V468.20" stroke="#4DBBD5" stroke-width="1.14" fill="none"/>
<path d="M140.00,478.05H145.20" stroke="#4DBBD5" stroke-width="1.50" fill="none"/><path d="M142.60,475.50V480.70" stroke="#4DBBD5" stroke-width="1.14" fill="none"/>
<path d="M155.20,478.05H160.40" stroke="#4DBBD5" stroke-width="1.50" fill="none"/><path d="M157.80,475.50V480.70" stroke="#4DBBD5" stroke-width="1.14" fill="none"/>
<path d="M163.00,478.05H168.20" stroke="#4DBBD5" stroke-width="1.50" fill="none"/><path d="M165.60,475.50V480.70" stroke="#4DBBD5" stroke-width="1.14" fill="none"/>
<path d="M283.40,478.05H288.60" stroke="#4DBBD5" stroke-width="1.50" fill="none"/><path d="M286.00,475.50V480.70" stroke="#4DBBD5" stroke-width="1.14" fill="none"/>
<path d="M44.60,484.10H107.40" stroke="#2e2e2e" stroke-width="0.85" stroke-dasharray="2.2,2.1" fill="none"/>
<path d="M107.40,484.10V556.20" stroke="#2e2e2e" stroke-width="0.85" stroke-dasharray="2.2,2.1" fill="none"/>
<path d="M32.50,403.95V563.30H298.50" stroke="#585858" stroke-width="1.1" fill="none"/>
<path d="M30.30,556.20H32.50" stroke="#585858" stroke-width="1"/>
<text x="28.50" y="560.40" font-family='"Liberation Serif", serif' font-size="9.3" font-weight="normal" text-anchor="end" fill="#2E2E2E" textLength="15.00" lengthAdjust="spacingAndGlyphs" stroke="#2E2E2E" stroke-width="0.18">0.00</text>
<path d="M30.30,519.95H32.50" stroke="#585858" stroke-width="1"/>
<text x="28.50" y="524.15" font-family='"Liberation Serif", serif' font-size="9.3" font-weight="normal" text-anchor="end" fill="#2E2E2E" textLength="15.00" lengthAdjust="spacingAndGlyphs" stroke="#2E2E2E" stroke-width="0.18">0.25</text>
<path d="M30.30,483.70H32.50" stroke="#585858" stroke-width="1"/>
<text x="28.50" y="487.90" font-family='"Liberation Serif", serif' font-size="9.3" font-weight="normal" text-anchor="end" fill="#2E2E2E" textLength="15.00" lengthAdjust="spacingAndGlyphs" stroke="#2E2E2E" stroke-width="0.18">0.50</text>
<path d="M30.30,447.45H32.50" stroke="#585858" stroke-width="1"/>
<text x="28.50" y="451.65" font-family='"Liberation Serif", serif' font-size="9.3" font-weight="normal" text-anchor="end" fill="#2E2E2E" textLength="15.00" lengthAdjust="spacingAndGlyphs" stroke="#2E2E2E" stroke-width="0.18">0.75</text>
<path d="M30.30,411.20H32.50" stroke="#585858" stroke-width="1"/>
<text x="28.50" y="415.40" font-family='"Liberation Serif", serif' font-size="9.3" font-weight="normal" text-anchor="end" fill="#2E2E2E" textLength="15.00" lengthAdjust="spacingAndGlyphs" stroke="#2E2E2E" stroke-width="0.18">1.00</text>
<path d="M44.60,563.30V565.50" stroke="#585858" stroke-width="1"/>
<text x="44.60" y="574.40" font-family='"Liberation Serif", serif' font-size="9.0" font-weight="normal" text-anchor="middle" fill="#2E2E2E" stroke="#2E2E2E" stroke-width="0.18">0</text>
<path d="M84.90,563.30V565.50" stroke="#585858" stroke-width="1"/>
<text x="84.90" y="574.40" font-family='"Liberation Serif", serif' font-size="9.0" font-weight="normal" text-anchor="middle" fill="#2E2E2E" stroke="#2E2E2E" stroke-width="0.18">10</text>
<path d="M125.20,563.30V565.50" stroke="#585858" stroke-width="1"/>
<text x="125.20" y="574.40" font-family='"Liberation Serif", serif' font-size="9.0" font-weight="normal" text-anchor="middle" fill="#2E2E2E" stroke="#2E2E2E" stroke-width="0.18">20</text>
<path d="M165.50,563.30V565.50" stroke="#585858" stroke-width="1"/>
<text x="165.50" y="574.40" font-family='"Liberation Serif", serif' font-size="9.0" font-weight="normal" text-anchor="middle" fill="#2E2E2E" stroke="#2E2E2E" stroke-width="0.18">30</text>
<path d="M205.80,563.30V565.50" stroke="#585858" stroke-width="1"/>
<text x="205.80" y="574.40" font-family='"Liberation Serif", serif' font-size="9.0" font-weight="normal" text-anchor="middle" fill="#2E2E2E" stroke="#2E2E2E" stroke-width="0.18">40</text>
<path d="M246.10,563.30V565.50" stroke="#585858" stroke-width="1"/>
<text x="246.10" y="574.40" font-family='"Liberation Serif", serif' font-size="9.0" font-weight="normal" text-anchor="middle" fill="#2E2E2E" stroke="#2E2E2E" stroke-width="0.18">50</text>
<path d="M286.40,563.30V565.50" stroke="#585858" stroke-width="1"/>
<text x="286.40" y="574.40" font-family='"Liberation Serif", serif' font-size="9.0" font-weight="normal" text-anchor="middle" fill="#2E2E2E" stroke="#2E2E2E" stroke-width="0.18">60</text>
<text x="165.50" y="584.90" font-family='"Liberation Serif", serif' font-size="10.25" font-weight="normal" text-anchor="middle" fill="#000" >Follow up time(months)</text>
<text x="49.30" y="531.60" font-family='"Liberation Sans", sans-serif' font-size="10.4" font-weight="normal" text-anchor="start" fill="#222" >p = 0.025</text>
<text x="172.60" y="607.80" font-family='"Liberation Serif", serif' font-size="15.7" font-weight="bold" text-anchor="middle" fill="#000" >Patients at risk</text>
<path d="M46.90,609.30V637.60H298.30" stroke="#585858" stroke-width="1.0" fill="none"/>
<path d="M44.40,617.20H46.90" stroke="#585858" stroke-width="1"/>
<path d="M44.40,630.30H46.90" stroke="#585858" stroke-width="1"/>
<text x="42.70" y="620.20" font-family='"Liberation Serif", serif' font-size="10" font-weight="normal" text-anchor="end" fill="#E25B4A" textLength="29.40" lengthAdjust="spacingAndGlyphs" >High risk</text>
<text x="42.70" y="633.20" font-family='"Liberation Serif", serif' font-size="10" font-weight="normal" text-anchor="end" fill="#4CB3CF" textLength="29.40" lengthAdjust="spacingAndGlyphs" >Low risk</text>
<text x="58.30" y="621.00" font-family='"Liberation Sans", sans-serif' font-size="9.6" font-weight="normal" text-anchor="middle" fill="#E25B4A" >31</text>
<text x="58.30" y="634.10" font-family='"Liberation Sans", sans-serif' font-size="9.6" font-weight="normal" text-anchor="middle" fill="#4CB3CF" >26</text>
<path d="M58.30,637.60V639.70" stroke="#585858" stroke-width="1"/>
<text x="58.30" y="649.10" font-family='"Liberation Serif", serif' font-size="9.3" font-weight="normal" text-anchor="middle" fill="#262626" >0</text>
<text x="96.40" y="621.00" font-family='"Liberation Sans", sans-serif' font-size="9.6" font-weight="normal" text-anchor="middle" fill="#E25B4A" >22</text>
<text x="96.40" y="634.10" font-family='"Liberation Sans", sans-serif' font-size="9.6" font-weight="normal" text-anchor="middle" fill="#4CB3CF" >15</text>
<path d="M96.40,637.60V639.70" stroke="#585858" stroke-width="1"/>
<text x="96.40" y="649.10" font-family='"Liberation Serif", serif' font-size="9.3" font-weight="normal" text-anchor="middle" fill="#262626" >10</text>
<text x="134.50" y="621.00" font-family='"Liberation Sans", sans-serif' font-size="9.6" font-weight="normal" text-anchor="middle" fill="#E25B4A" >6</text>
<text x="134.50" y="634.10" font-family='"Liberation Sans", sans-serif' font-size="9.6" font-weight="normal" text-anchor="middle" fill="#4CB3CF" >8</text>
<path d="M134.50,637.60V639.70" stroke="#585858" stroke-width="1"/>
<text x="134.50" y="649.10" font-family='"Liberation Serif", serif' font-size="9.3" font-weight="normal" text-anchor="middle" fill="#262626" >20</text>
<text x="172.60" y="621.00" font-family='"Liberation Sans", sans-serif' font-size="9.6" font-weight="normal" text-anchor="middle" fill="#E25B4A" >1</text>
<text x="172.60" y="634.10" font-family='"Liberation Sans", sans-serif' font-size="9.6" font-weight="normal" text-anchor="middle" fill="#4CB3CF" >4</text>
<path d="M172.60,637.60V639.70" stroke="#585858" stroke-width="1"/>
<text x="172.60" y="649.10" font-family='"Liberation Serif", serif' font-size="9.3" font-weight="normal" text-anchor="middle" fill="#262626" >30</text>
<text x="210.70" y="621.00" font-family='"Liberation Sans", sans-serif' font-size="9.6" font-weight="normal" text-anchor="middle" fill="#E25B4A" >1</text>
<text x="210.70" y="634.10" font-family='"Liberation Sans", sans-serif' font-size="9.6" font-weight="normal" text-anchor="middle" fill="#4CB3CF" >2</text>
<path d="M210.70,637.60V639.70" stroke="#585858" stroke-width="1"/>
<text x="210.70" y="649.10" font-family='"Liberation Serif", serif' font-size="9.3" font-weight="normal" text-anchor="middle" fill="#262626" >40</text>
<text x="248.80" y="621.00" font-family='"Liberation Sans", sans-serif' font-size="9.6" font-weight="normal" text-anchor="middle" fill="#E25B4A" >0</text>
<text x="248.80" y="634.10" font-family='"Liberation Sans", sans-serif' font-size="9.6" font-weight="normal" text-anchor="middle" fill="#4CB3CF" >2</text>
<path d="M248.80,637.60V639.70" stroke="#585858" stroke-width="1"/>
<text x="248.80" y="649.10" font-family='"Liberation Serif", serif' font-size="9.3" font-weight="normal" text-anchor="middle" fill="#262626" >50</text>
<text x="286.90" y="621.00" font-family='"Liberation Sans", sans-serif' font-size="9.6" font-weight="normal" text-anchor="middle" fill="#E25B4A" >0</text>
<text x="286.90" y="634.10" font-family='"Liberation Sans", sans-serif' font-size="9.6" font-weight="normal" text-anchor="middle" fill="#4CB3CF" >2</text>
<path d="M286.90,637.60V639.70" stroke="#585858" stroke-width="1"/>
<text x="286.90" y="649.10" font-family='"Liberation Serif", serif' font-size="9.3" font-weight="normal" text-anchor="middle" fill="#262626" >60</text>
<text x="172.60" y="659.60" font-family='"Liberation Serif", serif' font-size="10.25" font-weight="normal" text-anchor="middle" fill="#000" >Follow up time(months)</text>
<text x="385.80" y="355.70" font-family='"Liberation Serif", serif' font-weight="bold" font-size="19.3">b<tspan font-size="17.6" dx="0.6">1</tspan></text>
<text x="500.00" y="359.60" font-family='"Liberation Serif", serif' font-weight="bold" font-size="19.6">OS by RS<tspan font-size="11" dx="0.9" dy="6.2">DL2</tspan></text>
<rect x="474.90" y="376.90" width="11.0" height="12.50" fill="#DA413A" fill-opacity="0.3"/>
<path d="M475.40,383.15H485.40" stroke="#E4513E" stroke-width="1.4"/>
<path d="M477.60,383.60H482.60" stroke="#E4513E" stroke-width="1.62" fill="none"/><path d="M480.10,381.15V386.15" stroke="#E4513E" stroke-width="1.23" fill="none"/>
<text x="491.00" y="388.90" font-family='"Liberation Serif", serif' font-size="15.5" font-weight="bold" text-anchor="start" fill="#000" >High risk</text>
<rect x="558.40" y="376.90" width="11.0" height="12.50" fill="#44AFC6" fill-opacity="0.3"/>
<path d="M558.90,383.15H568.90" stroke="#4DBBD5" stroke-width="1.4"/>
<path d="M561.10,383.60H566.10" stroke="#4DBBD5" stroke-width="1.62" fill="none"/><path d="M563.60,381.15V386.15" stroke="#4DBBD5" stroke-width="1.23" fill="none"/>
<text x="574.90" y="388.90" font-family='"Liberation Serif", serif' font-size="15.5" font-weight="bold" text-anchor="start" fill="#000" >Low risk</text>
<text x="397.30" y="483.80" font-family='"Liberation Serif", serif' font-size="14.9" font-weight="bold" text-anchor="middle" fill="#000" textLength="126.30" lengthAdjust="spacingAndGlyphs" transform="rotate(-90 397.30 483.80)">Estimated OS (%)</text>
<path d="M430.40,411.30H440.90V417.80H443.30V425.20H446.00V433.50H446.60V446.70H452.60V454.00H454.60V462.00H456.10V469.00H456.60V475.80H464.70V483.30H476.50V490.30H478.30V505.20H481.30V519.40H491.10V528.50H493.20V537.30H498.40" stroke="#E4513E" stroke-width="1.0" fill="none" stroke-linejoin="miter"/>
<path d="M430.40,411.30H445.70V414.20H448.60V418.40H454.10V426.20H459.40V441.80H461.50V450.00H465.60V455.30H467.20V458.80H468.10V462.30H470.20V466.60H472.40V471.00H474.20V472.80H475.00V476.30H476.00V479.80H476.90V483.30H481.00V488.50H495.20V494.70H497.60V500.80H503.60V507.90H590.10V532.30H657.30" stroke="#4DBBD5" stroke-width="1.0" fill="none" stroke-linejoin="miter"/>
<path d="M440.90,411.30 L446.20,411.30 L446.20,416.00 L449.00,416.00 L449.00,420.40 L455.20,420.40 L455.20,437.20 L461.70,437.20 L461.70,440.00 L471.60,440.00 L471.60,443.00 L476.70,443.00 L476.70,450.30 L478.90,450.30 L478.90,454.70 L481.10,454.70 L481.10,478.90 L490.30,478.90 L490.30,485.90 L492.90,485.90 L492.90,488.50 L498.40,488.50 L498.40,551.00 L493.10,551.00 L493.10,545.00 L491.10,545.00 L491.10,538.80 L480.90,538.80 L480.90,509.20 L465.00,509.20 L465.00,502.00 L455.30,502.00 L455.30,479.50 L452.30,479.50 L452.30,471.40 L446.60,471.40 L446.60,450.00 L443.30,450.00 L443.30,430.00 L440.90,430.00Z" fill="#DA413A" fill-opacity="0.3"/>
<path d="M445.70,411.30 L459.50,411.30 L459.50,421.90 L461.70,421.90 L461.70,427.30 L465.70,427.30 L465.70,433.90 L467.90,433.90 L467.90,437.20 L471.60,437.20 L471.60,443.00 L473.00,443.00 L473.00,449.50 L476.70,449.50 L476.70,452.00 L478.50,452.00 L478.50,455.30 L481.00,455.30 L481.00,459.50 L495.50,459.50 L495.50,468.80 L503.10,468.80 L503.10,474.50 L590.10,474.50 L590.10,450.50 L656.70,450.50 L656.70,551.00 L590.10,551.00 L590.10,527.60 L503.10,527.60 L503.10,521.40 L490.00,521.40 L490.00,509.20 L476.30,509.20 L476.30,499.00 L471.50,499.00 L471.50,478.90 L466.20,478.90 L466.20,468.40 L462.30,468.40 L462.30,460.50 L460.50,460.50 L460.50,459.00 L459.90,459.00 L459.90,440.10 L455.50,440.10 L455.50,428.80 L449.00,428.80 L449.00,421.10 L446.20,421.10 L446.20,415.50 L445.70,415.50Z" fill="#44AFC6" fill-opacity="0.3"/>
<clipPath id="cpb1"><path d="M440.90,411.30 L446.20,411.30 L446.20,416.00 L449.00,416.00 L449.00,420.40 L455.20,420.40 L455.20,437.20 L461.70,437.20 L461.70,440.00 L471.60,440.00 L471.60,443.00 L476.70,443.00 L476.70,450.30 L478.90,450.30 L478.90,454.70 L481.10,454.70 L481.10,478.90 L490.30,478.90 L490.30,485.90 L492.90,485.90 L492.90,488.50 L498.40,488.50 L498.40,551.00 L493.10,551.00 L493.10,545.00 L491.10,545.00 L491.10,538.80 L480.90,538.80 L480.90,509.20 L465.00,509.20 L465.00,502.00 L455.30,502.00 L455.30,479.50 L452.30,479.50 L452.30,471.40 L446.60,471.40 L446.60,450.00 L443.30,450.00 L443.30,430.00 L440.90,430.00Z"/></clipPath>
<path d="M445.70,411.30 L459.50,411.30 L459.50,421.90 L461.70,421.90 L461.70,427.30 L465.70,427.30 L465.70,433.90 L467.90,433.90 L467.90,437.20 L471.60,437.20 L471.60,443.00 L473.00,443.00 L473.00,449.50 L476.70,449.50 L476.70,452.00 L478.50,452.00 L478.50,455.30 L481.00,455.30 L481.00,459.50 L495.50,459.50 L495.50,468.80 L503.10,468.80 L503.10,474.50 L590.10,474.50 L590.10,450.50 L656.70,450.50 L656.70,551.00 L590.10,551.00 L590.10,527.60 L503.10,527.60 L503.10,521.40 L490.00,521.40 L490.00,509.20 L476.30,509.20 L476.30,499.00 L471.50,499.00 L471.50,478.90 L466.20,478.90 L466.20,468.40 L462.30,468.40 L462.30,460.50 L460.50,460.50 L460.50,459.00 L459.90,459.00 L459.90,440.10 L455.50,440.10 L455.50,428.80 L449.00,428.80 L449.00,421.10 L446.20,421.10 L446.20,415.50 L445.70,415.50Z" fill="#fff" fill-opacity="0.09" clip-path="url(#cpb1)"/>
<path d="M485.40,519.55H490.60" stroke="#E4513E" stroke-width="1.50" fill="none"/><path d="M488.00,517.00V522.20" stroke="#E4513E" stroke-width="1.14" fill="none"/>
<path d="M495.60,537.45H500.80" stroke="#E4513E" stroke-width="1.50" fill="none"/><path d="M498.20,534.90V540.10" stroke="#E4513E" stroke-width="1.14" fill="none"/>
<path d="M466.20,462.45H471.40" stroke="#4DBBD5" stroke-width="1.50" fill="none"/><path d="M468.80,459.90V465.10" stroke="#4DBBD5" stroke-width="1.14" fill="none"/>
<path d="M468.90,466.75H474.10" stroke="#4DBBD5" stroke-width="1.50" fill="none"/><path d="M471.50,464.20V469.40" stroke="#4DBBD5" stroke-width="1.14" fill="none"/>
<path d="M476.30,483.45H481.50" stroke="#4DBBD5" stroke-width="1.50" fill="none"/><path d="M478.90,480.90V486.10" stroke="#4DBBD5" stroke-width="1.14" fill="none"/>
<path d="M478.50,488.65H483.70" stroke="#4DBBD5" stroke-width="1.50" fill="none"/><path d="M481.10,486.10V491.30" stroke="#4DBBD5" stroke-width="1.14" fill="none"/>
<path d="M485.90,488.65H491.10" stroke="#4DBBD5" stroke-width="1.50" fill="none"/><path d="M488.50,486.10V491.30" stroke="#4DBBD5" stroke-width="1.14" fill="none"/>
<path d="M493.60,494.85H498.80" stroke="#4DBBD5" stroke-width="1.50" fill="none"/><path d="M496.20,492.30V497.50" stroke="#4DBBD5" stroke-width="1.14" fill="none"/>
<path d="M506.40,508.05H511.60" stroke="#4DBBD5" stroke-width="1.50" fill="none"/><path d="M509.00,505.50V510.70" stroke="#4DBBD5" stroke-width="1.14" fill="none"/>
<path d="M512.50,508.05H517.70" stroke="#4DBBD5" stroke-width="1.50" fill="none"/><path d="M515.10,505.50V510.70" stroke="#4DBBD5" stroke-width="1.14" fill="none"/>
<path d="M543.10,508.05H548.30" stroke="#4DBBD5" stroke-width="1.50" fill="none"/><path d="M545.70,505.50V510.70" stroke="#4DBBD5" stroke-width="1.14" fill="none"/>
<path d="M572.90,508.05H578.10" stroke="#4DBBD5" stroke-width="1.50" fill="none"/><path d="M575.50,505.50V510.70" stroke="#4DBBD5" stroke-width="1.14" fill="none"/>
<path d="M654.40,532.45H659.60" stroke="#4DBBD5" stroke-width="1.50" fill="none"/><path d="M657.00,529.90V535.10" stroke="#4DBBD5" stroke-width="1.14" fill="none"/>
<path d="M430.60,484.10H481.30" stroke="#2e2e2e" stroke-width="0.85" stroke-dasharray="2.2,2.1" fill="none"/>
<path d="M471.50,484.10V556.30" stroke="#2e2e2e" stroke-width="0.85" stroke-dasharray="2.2,2.1" fill="none"/>
<path d="M481.30,484.10V556.30" stroke="#2e2e2e" stroke-width="0.85" stroke-dasharray="2.2,2.1" fill="none"/>
<path d="M418.50,403.95V563.30H685.00" stroke="#585858" stroke-width="1.1" fill="none"/>
<path d="M416.30,556.30H418.50" stroke="#585858" stroke-width="1"/>
<text x="414.50" y="560.50" font-family='"Liberation Serif", serif' font-size="9.3" font-weight="normal" text-anchor="end" fill="#2E2E2E" textLength="15.00" lengthAdjust="spacingAndGlyphs" stroke="#2E2E2E" stroke-width="0.18">0.00</text>
<path d="M416.30,520.05H418.50" stroke="#585858" stroke-width="1"/>
<text x="414.50" y="524.25" font-family='"Liberation Serif", serif' font-size="9.3" font-weight="normal" text-anchor="end" fill="#2E2E2E" textLength="15.00" lengthAdjust="spacingAndGlyphs" stroke="#2E2E2E" stroke-width="0.18">0.25</text>
<path d="M416.30,483.80H418.50" stroke="#585858" stroke-width="1"/>
<text x="414.50" y="488.00" font-family='"Liberation Serif", serif' font-size="9.3" font-weight="normal" text-anchor="end" fill="#2E2E2E" textLength="15.00" lengthAdjust="spacingAndGlyphs" stroke="#2E2E2E" stroke-width="0.18">0.50</text>
<path d="M416.30,447.55H418.50" stroke="#585858" stroke-width="1"/>
<text x="414.50" y="451.75" font-family='"Liberation Serif", serif' font-size="9.3" font-weight="normal" text-anchor="end" fill="#2E2E2E" textLength="15.00" lengthAdjust="spacingAndGlyphs" stroke="#2E2E2E" stroke-width="0.18">0.75</text>
<path d="M416.30,411.30H418.50" stroke="#585858" stroke-width="1"/>
<text x="414.50" y="415.50" font-family='"Liberation Serif", serif' font-size="9.3" font-weight="normal" text-anchor="end" fill="#2E2E2E" textLength="15.00" lengthAdjust="spacingAndGlyphs" stroke="#2E2E2E" stroke-width="0.18">1.00</text>
<path d="M430.60,563.30V565.50" stroke="#585858" stroke-width="1"/>
<text x="430.60" y="574.40" font-family='"Liberation Serif", serif' font-size="9.0" font-weight="normal" text-anchor="middle" fill="#2E2E2E" stroke="#2E2E2E" stroke-width="0.18">0</text>
<path d="M454.77,563.30V565.50" stroke="#585858" stroke-width="1"/>
<text x="454.77" y="574.40" font-family='"Liberation Serif", serif' font-size="9.0" font-weight="normal" text-anchor="middle" fill="#2E2E2E" stroke="#2E2E2E" stroke-width="0.18">10</text>
<path d="M478.94,563.30V565.50" stroke="#585858" stroke-width="1"/>
<text x="478.94" y="574.40" font-family='"Liberation Serif", serif' font-size="9.0" font-weight="normal" text-anchor="middle" fill="#2E2E2E" stroke="#2E2E2E" stroke-width="0.18">20</text>
<path d="M503.11,563.30V565.50" stroke="#585858" stroke-width="1"/>
<text x="503.11" y="574.40" font-family='"Liberation Serif", serif' font-size="9.0" font-weight="normal" text-anchor="middle" fill="#2E2E2E" stroke="#2E2E2E" stroke-width="0.18">30</text>
<path d="M527.28,563.30V565.50" stroke="#585858" stroke-width="1"/>
<text x="527.28" y="574.40" font-family='"Liberation Serif", serif' font-size="9.0" font-weight="normal" text-anchor="middle" fill="#2E2E2E" stroke="#2E2E2E" stroke-width="0.18">40</text>
<path d="M551.45,563.30V565.50" stroke="#585858" stroke-width="1"/>
<text x="551.45" y="574.40" font-family='"Liberation Serif", serif' font-size="9.0" font-weight="normal" text-anchor="middle" fill="#2E2E2E" stroke="#2E2E2E" stroke-width="0.18">50</text>
<path d="M575.62,563.30V565.50" stroke="#585858" stroke-width="1"/>
<text x="575.62" y="574.40" font-family='"Liberation Serif", serif' font-size="9.0" font-weight="normal" text-anchor="middle" fill="#2E2E2E" stroke="#2E2E2E" stroke-width="0.18">60</text>
<path d="M599.79,563.30V565.50" stroke="#585858" stroke-width="1"/>
<text x="599.79" y="574.40" font-family='"Liberation Serif", serif' font-size="9.0" font-weight="normal" text-anchor="middle" fill="#2E2E2E" stroke="#2E2E2E" stroke-width="0.18">70</text>
<path d="M623.96,563.30V565.50" stroke="#585858" stroke-width="1"/>
<text x="623.96" y="574.40" font-family='"Liberation Serif", serif' font-size="9.0" font-weight="normal" text-anchor="middle" fill="#2E2E2E" stroke="#2E2E2E" stroke-width="0.18">80</text>
<path d="M648.13,563.30V565.50" stroke="#585858" stroke-width="1"/>
<text x="648.13" y="574.40" font-family='"Liberation Serif", serif' font-size="9.0" font-weight="normal" text-anchor="middle" fill="#2E2E2E" stroke="#2E2E2E" stroke-width="0.18">90</text>
<path d="M672.30,563.30V565.50" stroke="#585858" stroke-width="1"/>
<text x="672.30" y="574.40" font-family='"Liberation Serif", serif' font-size="9.0" font-weight="normal" text-anchor="middle" fill="#2E2E2E" stroke="#2E2E2E" stroke-width="0.18">100</text>
<text x="551.75" y="584.90" font-family='"Liberation Serif", serif' font-size="10.25" font-weight="normal" text-anchor="middle" fill="#000" >Follow up time(months)</text>
<text x="435.30" y="531.50" font-family='"Liberation Sans", sans-serif' font-size="10.4" font-weight="normal" text-anchor="start" fill="#222" >p = 0.038</text>
<text x="558.40" y="607.80" font-family='"Liberation Serif", serif' font-size="15.7" font-weight="bold" text-anchor="middle" fill="#000" >Patients at risk</text>
<path d="M432.40,609.30V637.60H685.00" stroke="#585858" stroke-width="1.0" fill="none"/>
<path d="M429.90,617.20H432.40" stroke="#585858" stroke-width="1"/>
<path d="M429.90,630.30H432.40" stroke="#585858" stroke-width="1"/>
<text x="427.90" y="620.20" font-family='"Liberation Serif", serif' font-size="10" font-weight="normal" text-anchor="end" fill="#E25B4A" textLength="29.40" lengthAdjust="spacingAndGlyphs" >High risk</text>
<text x="427.90" y="633.20" font-family='"Liberation Serif", serif' font-size="10" font-weight="normal" text-anchor="end" fill="#4CB3CF" textLength="29.40" lengthAdjust="spacingAndGlyphs" >Low risk</text>
<text x="443.30" y="621.00" font-family='"Liberation Sans", sans-serif' font-size="9.6" font-weight="normal" text-anchor="middle" fill="#E25B4A" >20</text>
<text x="443.30" y="634.10" font-family='"Liberation Sans", sans-serif' font-size="9.6" font-weight="normal" text-anchor="middle" fill="#4CB3CF" >37</text>
<path d="M443.30,637.60V639.70" stroke="#585858" stroke-width="1"/>
<text x="443.30" y="649.10" font-family='"Liberation Serif", serif' font-size="9.3" font-weight="normal" text-anchor="middle" fill="#262626" >0</text>
<text x="466.25" y="621.00" font-family='"Liberation Sans", sans-serif' font-size="9.6" font-weight="normal" text-anchor="middle" fill="#E25B4A" >14</text>
<text x="466.25" y="634.10" font-family='"Liberation Sans", sans-serif' font-size="9.6" font-weight="normal" text-anchor="middle" fill="#4CB3CF" >35</text>
<path d="M466.25,637.60V639.70" stroke="#585858" stroke-width="1"/>
<text x="466.25" y="649.10" font-family='"Liberation Serif", serif' font-size="9.3" font-weight="normal" text-anchor="middle" fill="#262626" >10</text>
<text x="489.20" y="621.00" font-family='"Liberation Sans", sans-serif' font-size="9.6" font-weight="normal" text-anchor="middle" fill="#E25B4A" >9</text>
<text x="489.20" y="634.10" font-family='"Liberation Sans", sans-serif' font-size="9.6" font-weight="normal" text-anchor="middle" fill="#4CB3CF" >17</text>
<path d="M489.20,637.60V639.70" stroke="#585858" stroke-width="1"/>
<text x="489.20" y="649.10" font-family='"Liberation Serif", serif' font-size="9.3" font-weight="normal" text-anchor="middle" fill="#262626" >20</text>
<text x="512.15" y="621.00" font-family='"Liberation Sans", sans-serif' font-size="9.6" font-weight="normal" text-anchor="middle" fill="#E25B4A" >0</text>
<text x="512.15" y="634.10" font-family='"Liberation Sans", sans-serif' font-size="9.6" font-weight="normal" text-anchor="middle" fill="#4CB3CF" >8</text>
<path d="M512.15,637.60V639.70" stroke="#585858" stroke-width="1"/>
<text x="512.15" y="649.10" font-family='"Liberation Serif", serif' font-size="9.3" font-weight="normal" text-anchor="middle" fill="#262626" >30</text>
<text x="535.10" y="621.00" font-family='"Liberation Sans", sans-serif' font-size="9.6" font-weight="normal" text-anchor="middle" fill="#E25B4A" >0</text>
<text x="535.10" y="634.10" font-family='"Liberation Sans", sans-serif' font-size="9.6" font-weight="normal" text-anchor="middle" fill="#4CB3CF" >5</text>
<path d="M535.10,637.60V639.70" stroke="#585858" stroke-width="1"/>
<text x="535.10" y="649.10" font-family='"Liberation Serif", serif' font-size="9.3" font-weight="normal" text-anchor="middle" fill="#262626" >40</text>
<text x="558.05" y="621.00" font-family='"Liberation Sans", sans-serif' font-size="9.6" font-weight="normal" text-anchor="middle" fill="#E25B4A" >0</text>
<text x="558.05" y="634.10" font-family='"Liberation Sans", sans-serif' font-size="9.6" font-weight="normal" text-anchor="middle" fill="#4CB3CF" >3</text>
<path d="M558.05,637.60V639.70" stroke="#585858" stroke-width="1"/>
<text x="558.05" y="649.10" font-family='"Liberation Serif", serif' font-size="9.3" font-weight="normal" text-anchor="middle" fill="#262626" >50</text>
<text x="581.00" y="621.00" font-family='"Liberation Sans", sans-serif' font-size="9.6" font-weight="normal" text-anchor="middle" fill="#E25B4A" >0</text>
<text x="581.00" y="634.10" font-family='"Liberation Sans", sans-serif' font-size="9.6" font-weight="normal" text-anchor="middle" fill="#4CB3CF" >3</text>
<path d="M581.00,637.60V639.70" stroke="#585858" stroke-width="1"/>
<text x="581.00" y="649.10" font-family='"Liberation Serif", serif' font-size="9.3" font-weight="normal" text-anchor="middle" fill="#262626" >60</text>
<text x="603.95" y="621.00" font-family='"Liberation Sans", sans-serif' font-size="9.6" font-weight="normal" text-anchor="middle" fill="#E25B4A" >0</text>
<text x="603.95" y="634.10" font-family='"Liberation Sans", sans-serif' font-size="9.6" font-weight="normal" text-anchor="middle" fill="#4CB3CF" >1</text>
<path d="M603.95,637.60V639.70" stroke="#585858" stroke-width="1"/>
<text x="603.95" y="649.10" font-family='"Liberation Serif", serif' font-size="9.3" font-weight="normal" text-anchor="middle" fill="#262626" >70</text>
<text x="626.90" y="621.00" font-family='"Liberation Sans", sans-serif' font-size="9.6" font-weight="normal" text-anchor="middle" fill="#E25B4A" >0</text>
<text x="626.90" y="634.10" font-family='"Liberation Sans", sans-serif' font-size="9.6" font-weight="normal" text-anchor="middle" fill="#4CB3CF" >1</text>
<path d="M626.90,637.60V639.70" stroke="#585858" stroke-width="1"/>
<text x="626.90" y="649.10" font-family='"Liberation Serif", serif' font-size="9.3" font-weight="normal" text-anchor="middle" fill="#262626" >80</text>
<text x="649.85" y="621.00" font-family='"Liberation Sans", sans-serif' font-size="9.6" font-weight="normal" text-anchor="middle" fill="#E25B4A" >0</text>
<text x="649.85" y="634.10" font-family='"Liberation Sans", sans-serif' font-size="9.6" font-weight="normal" text-anchor="middle" fill="#4CB3CF" >1</text>
<path d="M649.85,637.60V639.70" stroke="#585858" stroke-width="1"/>
<text x="649.85" y="649.10" font-family='"Liberation Serif", serif' font-size="9.3" font-weight="normal" text-anchor="middle" fill="#262626" >90</text>
<text x="672.80" y="621.00" font-family='"Liberation Sans", sans-serif' font-size="9.6" font-weight="normal" text-anchor="middle" fill="#E25B4A" >0</text>
<text x="672.80" y="634.10" font-family='"Liberation Sans", sans-serif' font-size="9.6" font-weight="normal" text-anchor="middle" fill="#4CB3CF" >0</text>
<path d="M672.80,637.60V639.70" stroke="#585858" stroke-width="1"/>
<text x="672.80" y="649.10" font-family='"Liberation Serif", serif' font-size="9.3" font-weight="normal" text-anchor="middle" fill="#262626" >100</text>
<text x="558.40" y="659.60" font-family='"Liberation Serif", serif' font-size="10.25" font-weight="normal" text-anchor="middle" fill="#000" >Follow up time(months)</text>
<text x="0.80" y="707.20" font-family='"Liberation Serif", serif' font-weight="bold" font-size="21.5">c</text>
<text x="124.60" y="707.00" font-family='"Liberation Serif", serif' font-weight="bold" font-size="19.6">LC by RS<tspan font-size="11" dx="0.9" dy="6.2">Peri1mm</tspan></text>
<rect x="89.20" y="725.00" width="11.0" height="12.50" fill="#DA413A" fill-opacity="0.3"/>
<path d="M89.70,731.25H99.70" stroke="#E4513E" stroke-width="1.4"/>
<path d="M91.90,731.70H96.90" stroke="#E4513E" stroke-width="1.62" fill="none"/><path d="M94.40,729.25V734.25" stroke="#E4513E" stroke-width="1.23" fill="none"/>
<text x="105.60" y="737.00" font-family='"Liberation Serif", serif' font-size="15.5" font-weight="bold" text-anchor="start" fill="#000" >High risk</text>
<rect x="173.00" y="725.00" width="11.0" height="12.50" fill="#44AFC6" fill-opacity="0.3"/>
<path d="M173.50,731.25H183.50" stroke="#4DBBD5" stroke-width="1.4"/>
<path d="M175.70,731.70H180.70" stroke="#4DBBD5" stroke-width="1.62" fill="none"/><path d="M178.20,729.25V734.25" stroke="#4DBBD5" stroke-width="1.23" fill="none"/>
<text x="189.20" y="737.00" font-family='"Liberation Serif", serif' font-size="15.5" font-weight="bold" text-anchor="start" fill="#000" >Low risk</text>
<text x="12.00" y="831.90" font-family='"Liberation Serif", serif' font-size="14.9" font-weight="bold" text-anchor="middle" fill="#000" textLength="126.50" lengthAdjust="spacingAndGlyphs" transform="rotate(-90 12.00 831.90)">Estimated LC (%)</text>
<path d="M44.40,759.30H52.30V767.50H57.00V786.00H64.40V791.60H70.90V796.30H76.80V801.40H84.80V811.60H92.80V820.40H97.00V825.50H107.20V832.00H108.70V837.90H112.40V844.50H121.30V858.40H141.60V885.60H166.10" stroke="#E4513E" stroke-width="1.0" fill="none" stroke-linejoin="miter"/>
<path d="M44.40,759.30H52.40V769.30H60.50V781.20H69.30V787.00H81.50V794.10H104.80V802.10H133.10V814.20H141.60V827.70H286.20" stroke="#4DBBD5" stroke-width="1.0" fill="none" stroke-linejoin="miter"/>
<path d="M52.30,758.40 L57.50,758.40 L57.50,765.40 L64.10,765.40 L64.10,768.00 L72.00,768.00 L72.00,771.00 L77.20,771.00 L77.20,775.20 L84.50,775.20 L84.50,782.40 L92.60,782.40 L92.60,791.20 L98.50,791.20 L98.50,791.90 L104.50,791.90 L104.50,801.40 L111.80,801.40 L111.80,810.90 L121.30,810.90 L121.30,821.80 L141.30,821.80 L141.30,842.00 L166.10,842.00 L166.10,898.20 L141.30,898.20 L141.30,877.50 L121.30,877.50 L121.30,866.40 L113.30,866.40 L113.30,859.00 L108.20,859.00 L108.20,848.80 L98.70,848.80 L98.70,843.00 L92.80,843.00 L92.80,831.30 L84.80,831.30 L84.80,821.80 L77.50,821.80 L77.50,816.70 L73.10,816.70 L73.10,810.10 L64.40,810.10 L64.40,804.30 L56.60,804.30 L56.60,779.80 L52.30,779.80Z" fill="#DA413A" fill-opacity="0.3"/>
<path d="M52.40,758.40 L68.90,758.40 L68.90,762.30 L81.20,762.30 L81.20,766.60 L104.80,766.60 L104.80,770.50 L132.70,770.50 L132.70,774.10 L141.30,774.10 L141.30,779.80 L286.40,779.80 L286.40,856.20 L141.30,856.20 L141.30,841.70 L133.00,841.70 L133.00,826.20 L105.30,826.20 L105.30,814.50 L81.20,814.50 L81.20,813.80 L73.10,813.80 L73.10,805.80 L68.80,805.80 L68.80,799.20 L60.50,799.20 L60.50,784.00 L52.40,784.00Z" fill="#44AFC6" fill-opacity="0.3"/>
<clipPath id="cpc"><path d="M52.30,758.40 L57.50,758.40 L57.50,765.40 L64.10,765.40 L64.10,768.00 L72.00,768.00 L72.00,771.00 L77.20,771.00 L77.20,775.20 L84.50,775.20 L84.50,782.40 L92.60,782.40 L92.60,791.20 L98.50,791.20 L98.50,791.90 L104.50,791.90 L104.50,801.40 L111.80,801.40 L111.80,810.90 L121.30,810.90 L121.30,821.80 L141.30,821.80 L141.30,842.00 L166.10,842.00 L166.10,898.20 L141.30,898.20 L141.30,877.50 L121.30,877.50 L121.30,866.40 L113.30,866.40 L113.30,859.00 L108.20,859.00 L108.20,848.80 L98.70,848.80 L98.70,843.00 L92.80,843.00 L92.80,831.30 L84.80,831.30 L84.80,821.80 L77.50,821.80 L77.50,816.70 L73.10,816.70 L73.10,810.10 L64.40,810.10 L64.40,804.30 L56.60,804.30 L56.60,779.80 L52.30,779.80Z"/></clipPath>
<path d="M52.40,758.40 L68.90,758.40 L68.90,762.30 L81.20,762.30 L81.20,766.60 L104.80,766.60 L104.80,770.50 L132.70,770.50 L132.70,774.10 L141.30,774.10 L141.30,779.80 L286.40,779.80 L286.40,856.20 L141.30,856.20 L141.30,841.70 L133.00,841.70 L133.00,826.20 L105.30,826.20 L105.30,814.50 L81.20,814.50 L81.20,813.80 L73.10,813.80 L73.10,805.80 L68.80,805.80 L68.80,799.20 L60.50,799.20 L60.50,784.00 L52.40,784.00Z" fill="#fff" fill-opacity="0.09" clip-path="url(#cpc)"/>
<path d="M65.70,791.75H70.90" stroke="#E4513E" stroke-width="1.50" fill="none"/><path d="M68.30,789.20V794.40" stroke="#E4513E" stroke-width="1.14" fill="none"/>
<path d="M85.90,811.75H91.10" stroke="#E4513E" stroke-width="1.50" fill="none"/><path d="M88.50,809.20V814.40" stroke="#E4513E" stroke-width="1.14" fill="none"/>
<path d="M93.70,820.55H98.90" stroke="#E4513E" stroke-width="1.50" fill="none"/><path d="M96.30,818.00V823.20" stroke="#E4513E" stroke-width="1.14" fill="none"/>
<path d="M106.30,838.05H111.50" stroke="#E4513E" stroke-width="1.50" fill="none"/><path d="M108.90,835.50V840.70" stroke="#E4513E" stroke-width="1.14" fill="none"/>
<path d="M120.90,858.55H126.10" stroke="#E4513E" stroke-width="1.50" fill="none"/><path d="M123.50,856.00V861.20" stroke="#E4513E" stroke-width="1.14" fill="none"/>
<path d="M126.00,858.55H131.20" stroke="#E4513E" stroke-width="1.50" fill="none"/><path d="M128.60,856.00V861.20" stroke="#E4513E" stroke-width="1.14" fill="none"/>
<path d="M151.70,885.75H156.90" stroke="#E4513E" stroke-width="1.50" fill="none"/><path d="M154.30,883.20V888.40" stroke="#E4513E" stroke-width="1.14" fill="none"/>
<path d="M163.40,885.75H168.60" stroke="#E4513E" stroke-width="1.50" fill="none"/><path d="M166.00,883.20V888.40" stroke="#E4513E" stroke-width="1.14" fill="none"/>
<path d="M58.90,781.35H64.10" stroke="#4DBBD5" stroke-width="1.50" fill="none"/><path d="M61.50,778.80V784.00" stroke="#4DBBD5" stroke-width="1.14" fill="none"/>
<path d="M67.20,787.15H72.40" stroke="#4DBBD5" stroke-width="1.50" fill="none"/><path d="M69.80,784.60V789.80" stroke="#4DBBD5" stroke-width="1.14" fill="none"/>
<path d="M71.40,787.15H76.60" stroke="#4DBBD5" stroke-width="1.50" fill="none"/><path d="M74.00,784.60V789.80" stroke="#4DBBD5" stroke-width="1.14" fill="none"/>
<path d="M79.30,794.25H84.50" stroke="#4DBBD5" stroke-width="1.50" fill="none"/><path d="M81.90,791.70V796.90" stroke="#4DBBD5" stroke-width="1.14" fill="none"/>
<path d="M82.40,794.25H87.60" stroke="#4DBBD5" stroke-width="1.50" fill="none"/><path d="M85.00,791.70V796.90" stroke="#4DBBD5" stroke-width="1.14" fill="none"/>
<path d="M85.90,794.25H91.10" stroke="#4DBBD5" stroke-width="1.50" fill="none"/><path d="M88.50,791.70V796.90" stroke="#4DBBD5" stroke-width="1.14" fill="none"/>
<path d="M105.90,802.25H111.10" stroke="#4DBBD5" stroke-width="1.50" fill="none"/><path d="M108.50,799.70V804.90" stroke="#4DBBD5" stroke-width="1.14" fill="none"/>
<path d="M111.20,802.25H116.40" stroke="#4DBBD5" stroke-width="1.50" fill="none"/><path d="M113.80,799.70V804.90" stroke="#4DBBD5" stroke-width="1.14" fill="none"/>
<path d="M119.60,802.25H124.80" stroke="#4DBBD5" stroke-width="1.50" fill="none"/><path d="M122.20,799.70V804.90" stroke="#4DBBD5" stroke-width="1.14" fill="none"/>
<path d="M139.80,827.85H145.00" stroke="#4DBBD5" stroke-width="1.50" fill="none"/><path d="M142.40,825.30V830.50" stroke="#4DBBD5" stroke-width="1.14" fill="none"/>
<path d="M155.40,827.85H160.60" stroke="#4DBBD5" stroke-width="1.50" fill="none"/><path d="M158.00,825.30V830.50" stroke="#4DBBD5" stroke-width="1.14" fill="none"/>
<path d="M162.90,827.85H168.10" stroke="#4DBBD5" stroke-width="1.50" fill="none"/><path d="M165.50,825.30V830.50" stroke="#4DBBD5" stroke-width="1.14" fill="none"/>
<path d="M235.90,827.85H241.10" stroke="#4DBBD5" stroke-width="1.50" fill="none"/><path d="M238.50,825.30V830.50" stroke="#4DBBD5" stroke-width="1.14" fill="none"/>
<path d="M283.30,827.85H288.50" stroke="#4DBBD5" stroke-width="1.50" fill="none"/><path d="M285.90,825.30V830.50" stroke="#4DBBD5" stroke-width="1.14" fill="none"/>
<path d="M44.60,831.60H107.40" stroke="#2e2e2e" stroke-width="0.85" stroke-dasharray="2.2,2.1" fill="none"/>
<path d="M107.40,831.60V904.30" stroke="#2e2e2e" stroke-width="0.85" stroke-dasharray="2.2,2.1" fill="none"/>
<path d="M32.50,752.05V911.40H298.50" stroke="#585858" stroke-width="1.1" fill="none"/>
<path d="M30.30,904.30H32.50" stroke="#585858" stroke-width="1"/>
<text x="28.50" y="908.50" font-family='"Liberation Serif", serif' font-size="9.3" font-weight="normal" text-anchor="end" fill="#2E2E2E" textLength="15.00" lengthAdjust="spacingAndGlyphs" stroke="#2E2E2E" stroke-width="0.18">0.00</text>
<path d="M30.30,868.05H32.50" stroke="#585858" stroke-width="1"/>
<text x="28.50" y="872.25" font-family='"Liberation Serif", serif' font-size="9.3" font-weight="normal" text-anchor="end" fill="#2E2E2E" textLength="15.00" lengthAdjust="spacingAndGlyphs" stroke="#2E2E2E" stroke-width="0.18">0.25</text>
<path d="M30.30,831.80H32.50" stroke="#585858" stroke-width="1"/>
<text x="28.50" y="836.00" font-family='"Liberation Serif", serif' font-size="9.3" font-weight="normal" text-anchor="end" fill="#2E2E2E" textLength="15.00" lengthAdjust="spacingAndGlyphs" stroke="#2E2E2E" stroke-width="0.18">0.50</text>
<path d="M30.30,795.55H32.50" stroke="#585858" stroke-width="1"/>
<text x="28.50" y="799.75" font-family='"Liberation Serif", serif' font-size="9.3" font-weight="normal" text-anchor="end" fill="#2E2E2E" textLength="15.00" lengthAdjust="spacingAndGlyphs" stroke="#2E2E2E" stroke-width="0.18">0.75</text>
<path d="M30.30,759.30H32.50" stroke="#585858" stroke-width="1"/>
<text x="28.50" y="763.50" font-family='"Liberation Serif", serif' font-size="9.3" font-weight="normal" text-anchor="end" fill="#2E2E2E" textLength="15.00" lengthAdjust="spacingAndGlyphs" stroke="#2E2E2E" stroke-width="0.18">1.00</text>
<path d="M44.60,911.40V913.60" stroke="#585858" stroke-width="1"/>
<text x="44.60" y="922.50" font-family='"Liberation Serif", serif' font-size="9.0" font-weight="normal" text-anchor="middle" fill="#2E2E2E" stroke="#2E2E2E" stroke-width="0.18">0</text>
<path d="M84.90,911.40V913.60" stroke="#585858" stroke-width="1"/>
<text x="84.90" y="922.50" font-family='"Liberation Serif", serif' font-size="9.0" font-weight="normal" text-anchor="middle" fill="#2E2E2E" stroke="#2E2E2E" stroke-width="0.18">10</text>
<path d="M125.20,911.40V913.60" stroke="#585858" stroke-width="1"/>
<text x="125.20" y="922.50" font-family='"Liberation Serif", serif' font-size="9.0" font-weight="normal" text-anchor="middle" fill="#2E2E2E" stroke="#2E2E2E" stroke-width="0.18">20</text>
<path d="M165.50,911.40V913.60" stroke="#585858" stroke-width="1"/>
<text x="165.50" y="922.50" font-family='"Liberation Serif", serif' font-size="9.0" font-weight="normal" text-anchor="middle" fill="#2E2E2E" stroke="#2E2E2E" stroke-width="0.18">30</text>
<path d="M205.80,911.40V913.60" stroke="#585858" stroke-width="1"/>
<text x="205.80" y="922.50" font-family='"Liberation Serif", serif' font-size="9.0" font-weight="normal" text-anchor="middle" fill="#2E2E2E" stroke="#2E2E2E" stroke-width="0.18">40</text>
<path d="M246.10,911.40V913.60" stroke="#585858" stroke-width="1"/>
<text x="246.10" y="922.50" font-family='"Liberation Serif", serif' font-size="9.0" font-weight="normal" text-anchor="middle" fill="#2E2E2E" stroke="#2E2E2E" stroke-width="0.18">50</text>
<path d="M286.40,911.40V913.60" stroke="#585858" stroke-width="1"/>
<text x="286.40" y="922.50" font-family='"Liberation Serif", serif' font-size="9.0" font-weight="normal" text-anchor="middle" fill="#2E2E2E" stroke="#2E2E2E" stroke-width="0.18">60</text>
<text x="165.50" y="933.00" font-family='"Liberation Serif", serif' font-size="10.25" font-weight="normal" text-anchor="middle" fill="#000" >Follow up time (months)</text>
<text x="49.30" y="879.70" font-family='"Liberation Sans", sans-serif' font-size="10.4" font-weight="normal" text-anchor="start" fill="#222" >p = 0.026</text>
<text x="172.60" y="955.90" font-family='"Liberation Serif", serif' font-size="15.7" font-weight="bold" text-anchor="middle" fill="#000" >Patients at risk</text>
<path d="M46.90,957.40V985.70H298.30" stroke="#585858" stroke-width="1.0" fill="none"/>
<path d="M44.40,965.30H46.90" stroke="#585858" stroke-width="1"/>
<path d="M44.40,978.40H46.90" stroke="#585858" stroke-width="1"/>
<text x="42.70" y="968.30" font-family='"Liberation Serif", serif' font-size="10" font-weight="normal" text-anchor="end" fill="#E25B4A" textLength="29.40" lengthAdjust="spacingAndGlyphs" >High risk</text>
<text x="42.70" y="981.30" font-family='"Liberation Serif", serif' font-size="10" font-weight="normal" text-anchor="end" fill="#4CB3CF" textLength="29.40" lengthAdjust="spacingAndGlyphs" >Low risk</text>
<text x="58.30" y="969.10" font-family='"Liberation Sans", sans-serif' font-size="9.6" font-weight="normal" text-anchor="middle" fill="#E25B4A" >31</text>
<text x="58.30" y="982.20" font-family='"Liberation Sans", sans-serif' font-size="9.6" font-weight="normal" text-anchor="middle" fill="#4CB3CF" >26</text>
<path d="M58.30,985.70V987.80" stroke="#585858" stroke-width="1"/>
<text x="58.30" y="997.20" font-family='"Liberation Serif", serif' font-size="9.3" font-weight="normal" text-anchor="middle" fill="#262626" >0</text>
<text x="96.40" y="969.10" font-family='"Liberation Sans", sans-serif' font-size="9.6" font-weight="normal" text-anchor="middle" fill="#E25B4A" >21</text>
<text x="96.40" y="982.20" font-family='"Liberation Sans", sans-serif' font-size="9.6" font-weight="normal" text-anchor="middle" fill="#4CB3CF" >16</text>
<path d="M96.40,985.70V987.80" stroke="#585858" stroke-width="1"/>
<text x="96.40" y="997.20" font-family='"Liberation Serif", serif' font-size="9.3" font-weight="normal" text-anchor="middle" fill="#262626" >10</text>
<text x="134.50" y="969.10" font-family='"Liberation Sans", sans-serif' font-size="9.6" font-weight="normal" text-anchor="middle" fill="#E25B4A" >6</text>
<text x="134.50" y="982.20" font-family='"Liberation Sans", sans-serif' font-size="9.6" font-weight="normal" text-anchor="middle" fill="#4CB3CF" >8</text>
<path d="M134.50,985.70V987.80" stroke="#585858" stroke-width="1"/>
<text x="134.50" y="997.20" font-family='"Liberation Serif", serif' font-size="9.3" font-weight="normal" text-anchor="middle" fill="#262626" >20</text>
<text x="172.60" y="969.10" font-family='"Liberation Sans", sans-serif' font-size="9.6" font-weight="normal" text-anchor="middle" fill="#E25B4A" >1</text>
<text x="172.60" y="982.20" font-family='"Liberation Sans", sans-serif' font-size="9.6" font-weight="normal" text-anchor="middle" fill="#4CB3CF" >4</text>
<path d="M172.60,985.70V987.80" stroke="#585858" stroke-width="1"/>
<text x="172.60" y="997.20" font-family='"Liberation Serif", serif' font-size="9.3" font-weight="normal" text-anchor="middle" fill="#262626" >30</text>
<text x="210.70" y="969.10" font-family='"Liberation Sans", sans-serif' font-size="9.6" font-weight="normal" text-anchor="middle" fill="#E25B4A" >0</text>
<text x="210.70" y="982.20" font-family='"Liberation Sans", sans-serif' font-size="9.6" font-weight="normal" text-anchor="middle" fill="#4CB3CF" >3</text>
<path d="M210.70,985.70V987.80" stroke="#585858" stroke-width="1"/>
<text x="210.70" y="997.20" font-family='"Liberation Serif", serif' font-size="9.3" font-weight="normal" text-anchor="middle" fill="#262626" >40</text>
<text x="248.80" y="969.10" font-family='"Liberation Sans", sans-serif' font-size="9.6" font-weight="normal" text-anchor="middle" fill="#E25B4A" >0</text>
<text x="248.80" y="982.20" font-family='"Liberation Sans", sans-serif' font-size="9.6" font-weight="normal" text-anchor="middle" fill="#4CB3CF" >2</text>
<path d="M248.80,985.70V987.80" stroke="#585858" stroke-width="1"/>
<text x="248.80" y="997.20" font-family='"Liberation Serif", serif' font-size="9.3" font-weight="normal" text-anchor="middle" fill="#262626" >50</text>
<text x="286.90" y="969.10" font-family='"Liberation Sans", sans-serif' font-size="9.6" font-weight="normal" text-anchor="middle" fill="#E25B4A" >0</text>
<text x="286.90" y="982.20" font-family='"Liberation Sans", sans-serif' font-size="9.6" font-weight="normal" text-anchor="middle" fill="#4CB3CF" >2</text>
<path d="M286.90,985.70V987.80" stroke="#585858" stroke-width="1"/>
<text x="286.90" y="997.20" font-family='"Liberation Serif", serif' font-size="9.3" font-weight="normal" text-anchor="middle" fill="#262626" >60</text>
<text x="172.60" y="1007.70" font-family='"Liberation Serif", serif' font-size="10.25" font-weight="normal" text-anchor="middle" fill="#000" >Follow up time (months)</text>
<text x="385.60" y="707.30" font-family='"Liberation Serif", serif' font-weight="bold" font-size="21.5">c<tspan font-size="17.8" dx="0.4">1</tspan></text>
<text x="493.90" y="707.00" font-family='"Liberation Serif", serif' font-weight="bold" font-size="19.6">OS by RS<tspan font-size="11" dx="0.9" dy="6.2">Peri4mm</tspan></text>
<rect x="474.90" y="724.80" width="11.0" height="12.50" fill="#DA413A" fill-opacity="0.3"/>
<path d="M475.40,731.05H485.40" stroke="#E4513E" stroke-width="1.4"/>
<path d="M477.60,731.50H482.60" stroke="#E4513E" stroke-width="1.62" fill="none"/><path d="M480.10,729.05V734.05" stroke="#E4513E" stroke-width="1.23" fill="none"/>
<text x="491.00" y="736.80" font-family='"Liberation Serif", serif' font-size="15.5" font-weight="bold" text-anchor="start" fill="#000" >High risk</text>
<rect x="558.40" y="724.80" width="11.0" height="12.50" fill="#44AFC6" fill-opacity="0.3"/>
<path d="M558.90,731.05H568.90" stroke="#4DBBD5" stroke-width="1.4"/>
<path d="M561.10,731.50H566.10" stroke="#4DBBD5" stroke-width="1.62" fill="none"/><path d="M563.60,729.05V734.05" stroke="#4DBBD5" stroke-width="1.23" fill="none"/>
<text x="574.90" y="736.80" font-family='"Liberation Serif", serif' font-size="15.5" font-weight="bold" text-anchor="start" fill="#000" >Low risk</text>
<text x="397.30" y="831.70" font-family='"Liberation Serif", serif' font-size="14.9" font-weight="bold" text-anchor="middle" fill="#000" textLength="126.30" lengthAdjust="spacingAndGlyphs" transform="rotate(-90 397.30 831.70)">Estimated OS (%)</text>
<path d="M430.40,758.80H440.80V765.90H445.40V781.10H446.30V789.20H452.40V796.80H456.50V804.40H459.50V819.60H464.10V824.30H465.00V827.80H468.30V834.40H471.50V842.50H475.40V850.50H476.30V858.20H478.20V865.80H490.70V878.20H495.80V890.60H503.10V903.80H503.10" stroke="#E4513E" stroke-width="1.0" fill="none" stroke-linejoin="miter"/>
<path d="M430.40,758.80H443.40V762.40H446.30V765.90H448.60V770.00H454.50V781.60H455.90V785.10H459.70V789.20H461.20V793.90H462.70V800.90H466.20V805.60H466.80V808.50H472.00V812.00H474.30V816.10H477.30V819.60H478.70V823.10H480.20V827.20H481.40V835.20H492.90V841.60H497.30V847.30H590.10V875.30H657.30" stroke="#4DBBD5" stroke-width="1.0" fill="none" stroke-linejoin="miter"/>
<path d="M440.80,758.80 L452.40,758.80 L452.40,763.70 L456.50,763.70 L456.50,767.70 L459.50,767.70 L459.50,774.20 L461.50,774.20 L461.50,780.20 L464.10,780.20 L464.10,786.20 L468.40,786.20 L468.40,793.20 L471.40,793.20 L471.40,800.20 L475.00,800.20 L475.00,808.00 L476.10,808.00 L476.10,815.20 L479.10,815.20 L479.10,822.90 L490.70,822.90 L490.70,828.80 L503.10,828.80 L503.10,901.60 L495.80,901.60 L495.80,895.00 L490.70,895.00 L490.70,885.50 L479.00,885.50 L479.00,867.30 L471.70,867.30 L471.70,861.50 L467.80,861.50 L467.80,853.70 L465.10,853.70 L465.10,846.10 L460.00,846.10 L460.00,830.00 L457.10,830.00 L457.10,821.90 L452.40,821.90 L452.40,812.60 L446.00,812.60 L446.00,779.90 L440.80,779.90Z" fill="#DA413A" fill-opacity="0.3"/>
<path d="M443.40,758.80 L453.90,758.80 L453.90,763.20 L457.40,763.20 L457.40,767.60 L461.00,767.60 L461.00,772.00 L466.20,772.00 L466.20,784.20 L471.50,784.20 L471.50,790.40 L476.90,790.40 L476.90,795.60 L481.70,795.60 L481.70,806.50 L492.30,806.50 L492.30,811.50 L496.80,811.50 L496.80,815.50 L590.10,815.50 L590.10,782.70 L656.70,782.70 L656.70,896.60 L590.10,896.60 L590.10,867.40 L493.00,867.40 L493.00,856.00 L480.90,856.00 L480.90,844.90 L479.00,844.90 L479.00,837.20 L471.40,837.20 L471.40,828.20 L465.70,828.20 L465.70,819.90 L461.90,819.90 L461.90,811.00 L459.80,811.00 L459.80,797.90 L455.10,797.90 L455.10,790.70 L454.80,790.70 L454.80,781.70 L449.50,781.70 L449.50,774.20 L446.30,774.20 L446.30,765.90 L443.40,765.90Z" fill="#44AFC6" fill-opacity="0.3"/>
<clipPath id="cpc1"><path d="M440.80,758.80 L452.40,758.80 L452.40,763.70 L456.50,763.70 L456.50,767.70 L459.50,767.70 L459.50,774.20 L461.50,774.20 L461.50,780.20 L464.10,780.20 L464.10,786.20 L468.40,786.20 L468.40,793.20 L471.40,793.20 L471.40,800.20 L475.00,800.20 L475.00,808.00 L476.10,808.00 L476.10,815.20 L479.10,815.20 L479.10,822.90 L490.70,822.90 L490.70,828.80 L503.10,828.80 L503.10,901.60 L495.80,901.60 L495.80,895.00 L490.70,895.00 L490.70,885.50 L479.00,885.50 L479.00,867.30 L471.70,867.30 L471.70,861.50 L467.80,861.50 L467.80,853.70 L465.10,853.70 L465.10,846.10 L460.00,846.10 L460.00,830.00 L457.10,830.00 L457.10,821.90 L452.40,821.90 L452.40,812.60 L446.00,812.60 L446.00,779.90 L440.80,779.90Z"/></clipPath>
<path d="M443.40,758.80 L453.90,758.80 L453.90,763.20 L457.40,763.20 L457.40,767.60 L461.00,767.60 L461.00,772.00 L466.20,772.00 L466.20,784.20 L471.50,784.20 L471.50,790.40 L476.90,790.40 L476.90,795.60 L481.70,795.60 L481.70,806.50 L492.30,806.50 L492.30,811.50 L496.80,811.50 L496.80,815.50 L590.10,815.50 L590.10,782.70 L656.70,782.70 L656.70,896.60 L590.10,896.60 L590.10,867.40 L493.00,867.40 L493.00,856.00 L480.90,856.00 L480.90,844.90 L479.00,844.90 L479.00,837.20 L471.40,837.20 L471.40,828.20 L465.70,828.20 L465.70,819.90 L461.90,819.90 L461.90,811.00 L459.80,811.00 L459.80,797.90 L455.10,797.90 L455.10,790.70 L454.80,790.70 L454.80,781.70 L449.50,781.70 L449.50,774.20 L446.30,774.20 L446.30,765.90 L443.40,765.90Z" fill="#fff" fill-opacity="0.09" clip-path="url(#cpc1)"/>
<path d="M485.90,865.95H491.10" stroke="#E4513E" stroke-width="1.50" fill="none"/><path d="M488.50,863.40V868.60" stroke="#E4513E" stroke-width="1.14" fill="none"/>
<path d="M465.60,808.65H470.80" stroke="#4DBBD5" stroke-width="1.50" fill="none"/><path d="M468.20,806.10V811.30" stroke="#4DBBD5" stroke-width="1.14" fill="none"/>
<path d="M468.60,808.65H473.80" stroke="#4DBBD5" stroke-width="1.50" fill="none"/><path d="M471.20,806.10V811.30" stroke="#4DBBD5" stroke-width="1.14" fill="none"/>
<path d="M476.40,825.35H481.60" stroke="#4DBBD5" stroke-width="1.50" fill="none"/><path d="M479.00,822.80V828.00" stroke="#4DBBD5" stroke-width="1.14" fill="none"/>
<path d="M478.70,831.55H483.90" stroke="#4DBBD5" stroke-width="1.50" fill="none"/><path d="M481.30,829.00V834.20" stroke="#4DBBD5" stroke-width="1.14" fill="none"/>
<path d="M493.10,841.85H498.30" stroke="#4DBBD5" stroke-width="1.50" fill="none"/><path d="M495.70,839.30V844.50" stroke="#4DBBD5" stroke-width="1.14" fill="none"/>
<path d="M495.50,847.45H500.70" stroke="#4DBBD5" stroke-width="1.50" fill="none"/><path d="M498.10,844.90V850.10" stroke="#4DBBD5" stroke-width="1.14" fill="none"/>
<path d="M506.30,847.45H511.50" stroke="#4DBBD5" stroke-width="1.50" fill="none"/><path d="M508.90,844.90V850.10" stroke="#4DBBD5" stroke-width="1.14" fill="none"/>
<path d="M512.50,847.45H517.70" stroke="#4DBBD5" stroke-width="1.50" fill="none"/><path d="M515.10,844.90V850.10" stroke="#4DBBD5" stroke-width="1.14" fill="none"/>
<path d="M543.10,847.45H548.30" stroke="#4DBBD5" stroke-width="1.50" fill="none"/><path d="M545.70,844.90V850.10" stroke="#4DBBD5" stroke-width="1.14" fill="none"/>
<path d="M572.90,847.45H578.10" stroke="#4DBBD5" stroke-width="1.50" fill="none"/><path d="M575.50,844.90V850.10" stroke="#4DBBD5" stroke-width="1.14" fill="none"/>
<path d="M654.40,875.45H659.60" stroke="#4DBBD5" stroke-width="1.50" fill="none"/><path d="M657.00,872.90V878.10" stroke="#4DBBD5" stroke-width="1.14" fill="none"/>
<path d="M430.60,831.50H481.60" stroke="#2e2e2e" stroke-width="0.85" stroke-dasharray="2.2,2.1" fill="none"/>
<path d="M468.40,831.50V903.60" stroke="#2e2e2e" stroke-width="0.85" stroke-dasharray="2.2,2.1" fill="none"/>
<path d="M481.60,831.50V903.60" stroke="#2e2e2e" stroke-width="0.85" stroke-dasharray="2.2,2.1" fill="none"/>
<path d="M418.50,751.85V911.20H685.00" stroke="#585858" stroke-width="1.1" fill="none"/>
<path d="M416.30,903.60H418.50" stroke="#585858" stroke-width="1"/>
<text x="414.50" y="907.80" font-family='"Liberation Serif", serif' font-size="9.3" font-weight="normal" text-anchor="end" fill="#2E2E2E" textLength="15.00" lengthAdjust="spacingAndGlyphs" stroke="#2E2E2E" stroke-width="0.18">0.00</text>
<path d="M416.30,867.40H418.50" stroke="#585858" stroke-width="1"/>
<text x="414.50" y="871.60" font-family='"Liberation Serif", serif' font-size="9.3" font-weight="normal" text-anchor="end" fill="#2E2E2E" textLength="15.00" lengthAdjust="spacingAndGlyphs" stroke="#2E2E2E" stroke-width="0.18">0.25</text>
<path d="M416.30,831.20H418.50" stroke="#585858" stroke-width="1"/>
<text x="414.50" y="835.40" font-family='"Liberation Serif", serif' font-size="9.3" font-weight="normal" text-anchor="end" fill="#2E2E2E" textLength="15.00" lengthAdjust="spacingAndGlyphs" stroke="#2E2E2E" stroke-width="0.18">0.50</text>
<path d="M416.30,795.00H418.50" stroke="#585858" stroke-width="1"/>
<text x="414.50" y="799.20" font-family='"Liberation Serif", serif' font-size="9.3" font-weight="normal" text-anchor="end" fill="#2E2E2E" textLength="15.00" lengthAdjust="spacingAndGlyphs" stroke="#2E2E2E" stroke-width="0.18">0.75</text>
<path d="M416.30,758.80H418.50" stroke="#585858" stroke-width="1"/>
<text x="414.50" y="763.00" font-family='"Liberation Serif", serif' font-size="9.3" font-weight="normal" text-anchor="end" fill="#2E2E2E" textLength="15.00" lengthAdjust="spacingAndGlyphs" stroke="#2E2E2E" stroke-width="0.18">1.00</text>
<path d="M430.60,911.20V913.40" stroke="#585858" stroke-width="1"/>
<text x="430.60" y="922.30" font-family='"Liberation Serif", serif' font-size="9.0" font-weight="normal" text-anchor="middle" fill="#2E2E2E" stroke="#2E2E2E" stroke-width="0.18">0</text>
<path d="M454.77,911.20V913.40" stroke="#585858" stroke-width="1"/>
<text x="454.77" y="922.30" font-family='"Liberation Serif", serif' font-size="9.0" font-weight="normal" text-anchor="middle" fill="#2E2E2E" stroke="#2E2E2E" stroke-width="0.18">10</text>
<path d="M478.94,911.20V913.40" stroke="#585858" stroke-width="1"/>
<text x="478.94" y="922.30" font-family='"Liberation Serif", serif' font-size="9.0" font-weight="normal" text-anchor="middle" fill="#2E2E2E" stroke="#2E2E2E" stroke-width="0.18">20</text>
<path d="M503.11,911.20V913.40" stroke="#585858" stroke-width="1"/>
<text x="503.11" y="922.30" font-family='"Liberation Serif", serif' font-size="9.0" font-weight="normal" text-anchor="middle" fill="#2E2E2E" stroke="#2E2E2E" stroke-width="0.18">30</text>
<path d="M527.28,911.20V913.40" stroke="#585858" stroke-width="1"/>
<text x="527.28" y="922.30" font-family='"Liberation Serif", serif' font-size="9.0" font-weight="normal" text-anchor="middle" fill="#2E2E2E" stroke="#2E2E2E" stroke-width="0.18">40</text>
<path d="M551.45,911.20V913.40" stroke="#585858" stroke-width="1"/>
<text x="551.45" y="922.30" font-family='"Liberation Serif", serif' font-size="9.0" font-weight="normal" text-anchor="middle" fill="#2E2E2E" stroke="#2E2E2E" stroke-width="0.18">50</text>
<path d="M575.62,911.20V913.40" stroke="#585858" stroke-width="1"/>
<text x="575.62" y="922.30" font-family='"Liberation Serif", serif' font-size="9.0" font-weight="normal" text-anchor="middle" fill="#2E2E2E" stroke="#2E2E2E" stroke-width="0.18">60</text>
<path d="M599.79,911.20V913.40" stroke="#585858" stroke-width="1"/>
<text x="599.79" y="922.30" font-family='"Liberation Serif", serif' font-size="9.0" font-weight="normal" text-anchor="middle" fill="#2E2E2E" stroke="#2E2E2E" stroke-width="0.18">70</text>
<path d="M623.96,911.20V913.40" stroke="#585858" stroke-width="1"/>
<text x="623.96" y="922.30" font-family='"Liberation Serif", serif' font-size="9.0" font-weight="normal" text-anchor="middle" fill="#2E2E2E" stroke="#2E2E2E" stroke-width="0.18">80</text>
<path d="M648.13,911.20V913.40" stroke="#585858" stroke-width="1"/>
<text x="648.13" y="922.30" font-family='"Liberation Serif", serif' font-size="9.0" font-weight="normal" text-anchor="middle" fill="#2E2E2E" stroke="#2E2E2E" stroke-width="0.18">90</text>
<path d="M672.30,911.20V913.40" stroke="#585858" stroke-width="1"/>
<text x="672.30" y="922.30" font-family='"Liberation Serif", serif' font-size="9.0" font-weight="normal" text-anchor="middle" fill="#2E2E2E" stroke="#2E2E2E" stroke-width="0.18">100</text>
<text x="551.75" y="932.80" font-family='"Liberation Serif", serif' font-size="10.25" font-weight="normal" text-anchor="middle" fill="#000" >Follow up time (months)</text>
<text x="435.30" y="879.90" font-family='"Liberation Sans", sans-serif' font-size="10.4" font-weight="normal" text-anchor="start" fill="#222" >p = 0.009</text>
<text x="558.40" y="955.70" font-family='"Liberation Serif", serif' font-size="15.7" font-weight="bold" text-anchor="middle" fill="#000" >Patients at risk</text>
<path d="M432.40,957.20V985.50H685.00" stroke="#585858" stroke-width="1.0" fill="none"/>
<path d="M429.90,965.10H432.40" stroke="#585858" stroke-width="1"/>
<path d="M429.90,978.20H432.40" stroke="#585858" stroke-width="1"/>
<text x="427.90" y="968.10" font-family='"Liberation Serif", serif' font-size="10" font-weight="normal" text-anchor="end" fill="#E25B4A" textLength="29.40" lengthAdjust="spacingAndGlyphs" >High risk</text>
<text x="427.90" y="981.10" font-family='"Liberation Serif", serif' font-size="10" font-weight="normal" text-anchor="end" fill="#4CB3CF" textLength="29.40" lengthAdjust="spacingAndGlyphs" >Low risk</text>
<text x="443.30" y="968.90" font-family='"Liberation Sans", sans-serif' font-size="9.6" font-weight="normal" text-anchor="middle" fill="#E25B4A" >19</text>
<text x="443.30" y="982.00" font-family='"Liberation Sans", sans-serif' font-size="9.6" font-weight="normal" text-anchor="middle" fill="#4CB3CF" >38</text>
<path d="M443.30,985.50V987.60" stroke="#585858" stroke-width="1"/>
<text x="443.30" y="997.00" font-family='"Liberation Serif", serif' font-size="9.3" font-weight="normal" text-anchor="middle" fill="#262626" >0</text>
<text x="466.25" y="968.90" font-family='"Liberation Sans", sans-serif' font-size="9.6" font-weight="normal" text-anchor="middle" fill="#E25B4A" >14</text>
<text x="466.25" y="982.00" font-family='"Liberation Sans", sans-serif' font-size="9.6" font-weight="normal" text-anchor="middle" fill="#4CB3CF" >35</text>
<path d="M466.25,985.50V987.60" stroke="#585858" stroke-width="1"/>
<text x="466.25" y="997.00" font-family='"Liberation Serif", serif' font-size="9.3" font-weight="normal" text-anchor="middle" fill="#262626" >10</text>
<text x="489.20" y="968.90" font-family='"Liberation Sans", sans-serif' font-size="9.6" font-weight="normal" text-anchor="middle" fill="#E25B4A" >6</text>
<text x="489.20" y="982.00" font-family='"Liberation Sans", sans-serif' font-size="9.6" font-weight="normal" text-anchor="middle" fill="#4CB3CF" >20</text>
<path d="M489.20,985.50V987.60" stroke="#585858" stroke-width="1"/>
<text x="489.20" y="997.00" font-family='"Liberation Serif", serif' font-size="9.3" font-weight="normal" text-anchor="middle" fill="#262626" >20</text>
<text x="512.15" y="968.90" font-family='"Liberation Sans", sans-serif' font-size="9.6" font-weight="normal" text-anchor="middle" fill="#E25B4A" >1</text>
<text x="512.15" y="982.00" font-family='"Liberation Sans", sans-serif' font-size="9.6" font-weight="normal" text-anchor="middle" fill="#4CB3CF" >7</text>
<path d="M512.15,985.50V987.60" stroke="#585858" stroke-width="1"/>
<text x="512.15" y="997.00" font-family='"Liberation Serif", serif' font-size="9.3" font-weight="normal" text-anchor="middle" fill="#262626" >30</text>
<text x="535.10" y="968.90" font-family='"Liberation Sans", sans-serif' font-size="9.6" font-weight="normal" text-anchor="middle" fill="#E25B4A" >0</text>
<text x="535.10" y="982.00" font-family='"Liberation Sans", sans-serif' font-size="9.6" font-weight="normal" text-anchor="middle" fill="#4CB3CF" >5</text>
<path d="M535.10,985.50V987.60" stroke="#585858" stroke-width="1"/>
<text x="535.10" y="997.00" font-family='"Liberation Serif", serif' font-size="9.3" font-weight="normal" text-anchor="middle" fill="#262626" >40</text>
<text x="558.05" y="968.90" font-family='"Liberation Sans", sans-serif' font-size="9.6" font-weight="normal" text-anchor="middle" fill="#E25B4A" >0</text>
<text x="558.05" y="982.00" font-family='"Liberation Sans", sans-serif' font-size="9.6" font-weight="normal" text-anchor="middle" fill="#4CB3CF" >3</text>
<path d="M558.05,985.50V987.60" stroke="#585858" stroke-width="1"/>
<text x="558.05" y="997.00" font-family='"Liberation Serif", serif' font-size="9.3" font-weight="normal" text-anchor="middle" fill="#262626" >50</text>
<text x="581.00" y="968.90" font-family='"Liberation Sans", sans-serif' font-size="9.6" font-weight="normal" text-anchor="middle" fill="#E25B4A" >0</text>
<text x="581.00" y="982.00" font-family='"Liberation Sans", sans-serif' font-size="9.6" font-weight="normal" text-anchor="middle" fill="#4CB3CF" >3</text>
<path d="M581.00,985.50V987.60" stroke="#585858" stroke-width="1"/>
<text x="581.00" y="997.00" font-family='"Liberation Serif", serif' font-size="9.3" font-weight="normal" text-anchor="middle" fill="#262626" >60</text>
<text x="603.95" y="968.90" font-family='"Liberation Sans", sans-serif' font-size="9.6" font-weight="normal" text-anchor="middle" fill="#E25B4A" >0</text>
<text x="603.95" y="982.00" font-family='"Liberation Sans", sans-serif' font-size="9.6" font-weight="normal" text-anchor="middle" fill="#4CB3CF" >1</text>
<path d="M603.95,985.50V987.60" stroke="#585858" stroke-width="1"/>
<text x="603.95" y="997.00" font-family='"Liberation Serif", serif' font-size="9.3" font-weight="normal" text-anchor="middle" fill="#262626" >70</text>
<text x="626.90" y="968.90" font-family='"Liberation Sans", sans-serif' font-size="9.6" font-weight="normal" text-anchor="middle" fill="#E25B4A" >0</text>
<text x="626.90" y="982.00" font-family='"Liberation Sans", sans-serif' font-size="9.6" font-weight="normal" text-anchor="middle" fill="#4CB3CF" >1</text>
<path d="M626.90,985.50V987.60" stroke="#585858" stroke-width="1"/>
<text x="626.90" y="997.00" font-family='"Liberation Serif", serif' font-size="9.3" font-weight="normal" text-anchor="middle" fill="#262626" >80</text>
<text x="649.85" y="968.90" font-family='"Liberation Sans", sans-serif' font-size="9.6" font-weight="normal" text-anchor="middle" fill="#E25B4A" >0</text>
<text x="649.85" y="982.00" font-family='"Liberation Sans", sans-serif' font-size="9.6" font-weight="normal" text-anchor="middle" fill="#4CB3CF" >1</text>
<path d="M649.85,985.50V987.60" stroke="#585858" stroke-width="1"/>
<text x="649.85" y="997.00" font-family='"Liberation Serif", serif' font-size="9.3" font-weight="normal" text-anchor="middle" fill="#262626" >90</text>
<text x="672.80" y="968.90" font-family='"Liberation Sans", sans-serif' font-size="9.6" font-weight="normal" text-anchor="middle" fill="#E25B4A" >0</text>
<text x="672.80" y="982.00" font-family='"Liberation Sans", sans-serif' font-size="9.6" font-weight="normal" text-anchor="middle" fill="#4CB3CF" >0</text>
<path d="M672.80,985.50V987.60" stroke="#585858" stroke-width="1"/>
<text x="672.80" y="997.00" font-family='"Liberation Serif", serif' font-size="9.3" font-weight="normal" text-anchor="middle" fill="#262626" >100</text>
<text x="558.40" y="1007.50" font-family='"Liberation Serif", serif' font-size="10.25" font-weight="normal" text-anchor="middle" fill="#000" >Follow up time (months)</text>
</svg>
</body></html>
